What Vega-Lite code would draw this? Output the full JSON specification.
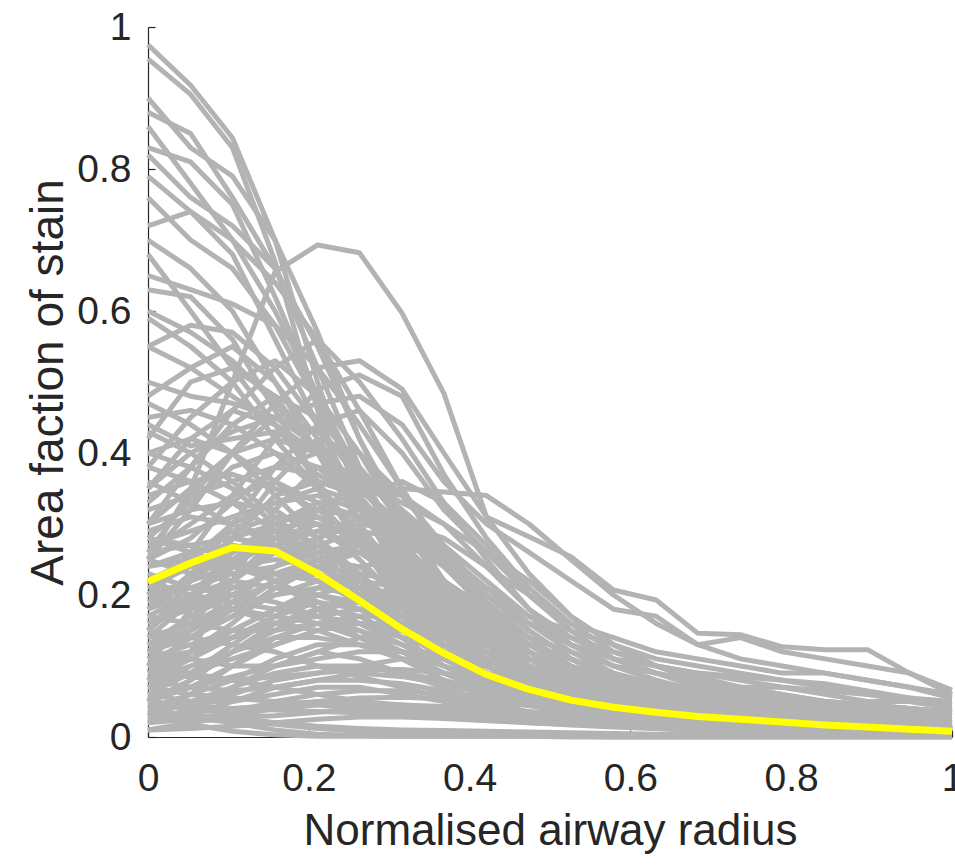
{
"$schema": "https://vega.github.io/schema/vega-lite/v6.json",
"width": 804, "height": 710,
"autosize": "none",
"padding": {"left": 148, "top": 27, "right": 3, "bottom": 129},
"background": "white",
"config": {"view": {"stroke": null},
 "axis": {"domainColor": "#262626", "tickColor": "#262626", "labelColor": "#262626", "titleColor": "#262626", "labelFont": "Liberation Sans", "titleFont": "Liberation Sans", "labelFontSize": 39, "titleFontSize": 44, "titleFontWeight": "normal", "grid": false, "tickSize": -7, "domainWidth": 1.2, "tickWidth": 1.2, "labelFlush": false, "labelOverlap": false}},
"datasets": {
"g": [
{"s":1,"x":0,"y":0.975},{"s":1,"x":0.053,"y":0.918},{"s":1,"x":0.105,"y":0.844},{"s":1,"x":0.158,"y":0.70},{"s":1,"x":0.211,"y":0.50},{"s":1,"x":0.263,"y":0.33},{"s":1,"x":0.316,"y":0.22},{"s":1,"x":0.368,"y":0.15},{"s":1,"x":0.421,"y":0.10},{"s":1,"x":0.474,"y":0.07},{"s":1,"x":0.526,"y":0.05},{"s":1,"x":0.579,"y":0.04},{"s":1,"x":0.632,"y":0.03},{"s":1,"x":0.684,"y":0.025},{"s":1,"x":0.737,"y":0.02},{"s":1,"x":0.789,"y":0.015},{"s":1,"x":0.842,"y":0.012},{"s":1,"x":0.895,"y":0.01},{"s":1,"x":0.947,"y":0.01},{"s":1,"x":1,"y":0.01},
{"s":2,"x":0,"y":0.955},{"s":2,"x":0.053,"y":0.905},{"s":2,"x":0.105,"y":0.83},{"s":2,"x":0.158,"y":0.67},{"s":2,"x":0.211,"y":0.46},{"s":2,"x":0.263,"y":0.30},{"s":2,"x":0.316,"y":0.19},{"s":2,"x":0.368,"y":0.12},{"s":2,"x":0.421,"y":0.08},{"s":2,"x":0.474,"y":0.06},{"s":2,"x":0.526,"y":0.045},{"s":2,"x":0.579,"y":0.035},{"s":2,"x":0.632,"y":0.03},{"s":2,"x":0.684,"y":0.02},{"s":2,"x":0.737,"y":0.02},{"s":2,"x":0.789,"y":0.015},{"s":2,"x":0.842,"y":0.01},{"s":2,"x":0.895,"y":0.01},{"s":2,"x":0.947,"y":0.01},{"s":2,"x":1,"y":0.008},
{"s":3,"x":0,"y":0.90},{"s":3,"x":0.053,"y":0.83},{"s":3,"x":0.105,"y":0.79},{"s":3,"x":0.158,"y":0.70},{"s":3,"x":0.211,"y":0.57},{"s":3,"x":0.263,"y":0.42},{"s":3,"x":0.316,"y":0.30},{"s":3,"x":0.368,"y":0.21},{"s":3,"x":0.421,"y":0.14},{"s":3,"x":0.474,"y":0.09},{"s":3,"x":0.526,"y":0.06},{"s":3,"x":0.579,"y":0.045},{"s":3,"x":0.632,"y":0.035},{"s":3,"x":0.684,"y":0.03},{"s":3,"x":0.737,"y":0.025},{"s":3,"x":0.789,"y":0.02},{"s":3,"x":0.842,"y":0.015},{"s":3,"x":0.895,"y":0.012},{"s":3,"x":0.947,"y":0.01},{"s":3,"x":1,"y":0.01},
{"s":4,"x":0,"y":0.88},{"s":4,"x":0.053,"y":0.85},{"s":4,"x":0.105,"y":0.76},{"s":4,"x":0.158,"y":0.66},{"s":4,"x":0.211,"y":0.52},{"s":4,"x":0.263,"y":0.38},{"s":4,"x":0.316,"y":0.26},{"s":4,"x":0.368,"y":0.17},{"s":4,"x":0.421,"y":0.11},{"s":4,"x":0.474,"y":0.07},{"s":4,"x":0.526,"y":0.05},{"s":4,"x":0.579,"y":0.04},{"s":4,"x":0.632,"y":0.03},{"s":4,"x":0.684,"y":0.02},{"s":4,"x":0.737,"y":0.015},{"s":4,"x":0.789,"y":0.012},{"s":4,"x":0.842,"y":0.01},{"s":4,"x":0.895,"y":0.01},{"s":4,"x":0.947,"y":0.008},{"s":4,"x":1,"y":0.006},
{"s":5,"x":0,"y":0.83},{"s":5,"x":0.053,"y":0.81},{"s":5,"x":0.105,"y":0.75},{"s":5,"x":0.158,"y":0.62},{"s":5,"x":0.211,"y":0.48},{"s":5,"x":0.263,"y":0.36},{"s":5,"x":0.316,"y":0.27},{"s":5,"x":0.368,"y":0.19},{"s":5,"x":0.421,"y":0.13},{"s":5,"x":0.474,"y":0.09},{"s":5,"x":0.526,"y":0.06},{"s":5,"x":0.579,"y":0.045},{"s":5,"x":0.632,"y":0.035},{"s":5,"x":0.684,"y":0.03},{"s":5,"x":0.737,"y":0.025},{"s":5,"x":0.789,"y":0.02},{"s":5,"x":0.842,"y":0.015},{"s":5,"x":0.895,"y":0.012},{"s":5,"x":0.947,"y":0.01},{"s":5,"x":1,"y":0.01},
{"s":6,"x":0,"y":0.82},{"s":6,"x":0.053,"y":0.76},{"s":6,"x":0.105,"y":0.72},{"s":6,"x":0.158,"y":0.66},{"s":6,"x":0.211,"y":0.55},{"s":6,"x":0.263,"y":0.42},{"s":6,"x":0.316,"y":0.31},{"s":6,"x":0.368,"y":0.22},{"s":6,"x":0.421,"y":0.15},{"s":6,"x":0.474,"y":0.10},{"s":6,"x":0.526,"y":0.07},{"s":6,"x":0.579,"y":0.05},{"s":6,"x":0.632,"y":0.04},{"s":6,"x":0.684,"y":0.03},{"s":6,"x":0.737,"y":0.025},{"s":6,"x":0.789,"y":0.02},{"s":6,"x":0.842,"y":0.02},{"s":6,"x":0.895,"y":0.015},{"s":6,"x":0.947,"y":0.012},{"s":6,"x":1,"y":0.01},
{"s":7,"x":0,"y":0.79},{"s":7,"x":0.053,"y":0.74},{"s":7,"x":0.105,"y":0.68},{"s":7,"x":0.158,"y":0.56},{"s":7,"x":0.211,"y":0.44},{"s":7,"x":0.263,"y":0.33},{"s":7,"x":0.316,"y":0.24},{"s":7,"x":0.368,"y":0.17},{"s":7,"x":0.421,"y":0.12},{"s":7,"x":0.474,"y":0.08},{"s":7,"x":0.526,"y":0.06},{"s":7,"x":0.579,"y":0.045},{"s":7,"x":0.632,"y":0.035},{"s":7,"x":0.684,"y":0.03},{"s":7,"x":0.737,"y":0.025},{"s":7,"x":0.789,"y":0.02},{"s":7,"x":0.842,"y":0.015},{"s":7,"x":0.895,"y":0.012},{"s":7,"x":0.947,"y":0.01},{"s":7,"x":1,"y":0.01},
{"s":8,"x":0,"y":0.76},{"s":8,"x":0.053,"y":0.70},{"s":8,"x":0.105,"y":0.66},{"s":8,"x":0.158,"y":0.58},{"s":8,"x":0.211,"y":0.47},{"s":8,"x":0.263,"y":0.36},{"s":8,"x":0.316,"y":0.27},{"s":8,"x":0.368,"y":0.20},{"s":8,"x":0.421,"y":0.14},{"s":8,"x":0.474,"y":0.10},{"s":8,"x":0.526,"y":0.07},{"s":8,"x":0.579,"y":0.05},{"s":8,"x":0.632,"y":0.04},{"s":8,"x":0.684,"y":0.03},{"s":8,"x":0.737,"y":0.025},{"s":8,"x":0.789,"y":0.02},{"s":8,"x":0.842,"y":0.015},{"s":8,"x":0.895,"y":0.012},{"s":8,"x":0.947,"y":0.01},{"s":8,"x":1,"y":0.01},
{"s":9,"x":0,"y":0.70},{"s":9,"x":0.053,"y":0.66},{"s":9,"x":0.105,"y":0.60},{"s":9,"x":0.158,"y":0.50},{"s":9,"x":0.211,"y":0.40},{"s":9,"x":0.263,"y":0.30},{"s":9,"x":0.316,"y":0.22},{"s":9,"x":0.368,"y":0.16},{"s":9,"x":0.421,"y":0.12},{"s":9,"x":0.474,"y":0.08},{"s":9,"x":0.526,"y":0.06},{"s":9,"x":0.579,"y":0.045},{"s":9,"x":0.632,"y":0.035},{"s":9,"x":0.684,"y":0.03},{"s":9,"x":0.737,"y":0.025},{"s":9,"x":0.789,"y":0.02},{"s":9,"x":0.842,"y":0.015},{"s":9,"x":0.895,"y":0.012},{"s":9,"x":0.947,"y":0.01},{"s":9,"x":1,"y":0.01},
{"s":10,"x":0,"y":0.68},{"s":10,"x":0.053,"y":0.60},{"s":10,"x":0.105,"y":0.52},{"s":10,"x":0.158,"y":0.44},{"s":10,"x":0.211,"y":0.36},{"s":10,"x":0.263,"y":0.28},{"s":10,"x":0.316,"y":0.21},{"s":10,"x":0.368,"y":0.15},{"s":10,"x":0.421,"y":0.11},{"s":10,"x":0.474,"y":0.08},{"s":10,"x":0.526,"y":0.06},{"s":10,"x":0.579,"y":0.045},{"s":10,"x":0.632,"y":0.035},{"s":10,"x":0.684,"y":0.03},{"s":10,"x":0.737,"y":0.025},{"s":10,"x":0.789,"y":0.02},{"s":10,"x":0.842,"y":0.015},{"s":10,"x":0.895,"y":0.012},{"s":10,"x":0.947,"y":0.01},{"s":10,"x":1,"y":0.01},
{"s":11,"x":0,"y":0.65},{"s":11,"x":0.053,"y":0.63},{"s":11,"x":0.105,"y":0.61},{"s":11,"x":0.158,"y":0.58},{"s":11,"x":0.211,"y":0.52},{"s":11,"x":0.263,"y":0.44},{"s":11,"x":0.316,"y":0.35},{"s":11,"x":0.368,"y":0.26},{"s":11,"x":0.421,"y":0.18},{"s":11,"x":0.474,"y":0.12},{"s":11,"x":0.526,"y":0.08},{"s":11,"x":0.579,"y":0.06},{"s":11,"x":0.632,"y":0.045},{"s":11,"x":0.684,"y":0.035},{"s":11,"x":0.737,"y":0.03},{"s":11,"x":0.789,"y":0.025},{"s":11,"x":0.842,"y":0.02},{"s":11,"x":0.895,"y":0.015},{"s":11,"x":0.947,"y":0.012},{"s":11,"x":1,"y":0.01},
{"s":12,"x":0,"y":0.63},{"s":12,"x":0.053,"y":0.62},{"s":12,"x":0.105,"y":0.56},{"s":12,"x":0.158,"y":0.46},{"s":12,"x":0.211,"y":0.36},{"s":12,"x":0.263,"y":0.27},{"s":12,"x":0.316,"y":0.19},{"s":12,"x":0.368,"y":0.13},{"s":12,"x":0.421,"y":0.09},{"s":12,"x":0.474,"y":0.06},{"s":12,"x":0.526,"y":0.045},{"s":12,"x":0.579,"y":0.035},{"s":12,"x":0.632,"y":0.03},{"s":12,"x":0.684,"y":0.025},{"s":12,"x":0.737,"y":0.02},{"s":12,"x":0.789,"y":0.015},{"s":12,"x":0.842,"y":0.012},{"s":12,"x":0.895,"y":0.01},{"s":12,"x":0.947,"y":0.01},{"s":12,"x":1,"y":0.008},
{"s":13,"x":0,"y":0.59},{"s":13,"x":0.053,"y":0.55},{"s":13,"x":0.105,"y":0.50},{"s":13,"x":0.158,"y":0.42},{"s":13,"x":0.211,"y":0.35},{"s":13,"x":0.263,"y":0.28},{"s":13,"x":0.316,"y":0.21},{"s":13,"x":0.368,"y":0.15},{"s":13,"x":0.421,"y":0.10},{"s":13,"x":0.474,"y":0.07},{"s":13,"x":0.526,"y":0.05},{"s":13,"x":0.579,"y":0.04},{"s":13,"x":0.632,"y":0.03},{"s":13,"x":0.684,"y":0.025},{"s":13,"x":0.737,"y":0.02},{"s":13,"x":0.789,"y":0.015},{"s":13,"x":0.842,"y":0.012},{"s":13,"x":0.895,"y":0.01},{"s":13,"x":0.947,"y":0.01},{"s":13,"x":1,"y":0.008},
{"s":14,"x":0,"y":0.55},{"s":14,"x":0.053,"y":0.52},{"s":14,"x":0.105,"y":0.48},{"s":14,"x":0.158,"y":0.44},{"s":14,"x":0.211,"y":0.40},{"s":14,"x":0.263,"y":0.34},{"s":14,"x":0.316,"y":0.27},{"s":14,"x":0.368,"y":0.20},{"s":14,"x":0.421,"y":0.14},{"s":14,"x":0.474,"y":0.10},{"s":14,"x":0.526,"y":0.07},{"s":14,"x":0.579,"y":0.05},{"s":14,"x":0.632,"y":0.04},{"s":14,"x":0.684,"y":0.03},{"s":14,"x":0.737,"y":0.025},{"s":14,"x":0.789,"y":0.02},{"s":14,"x":0.842,"y":0.015},{"s":14,"x":0.895,"y":0.012},{"s":14,"x":0.947,"y":0.01},{"s":14,"x":1,"y":0.01},
{"s":15,"x":0,"y":0.50},{"s":15,"x":0.053,"y":0.48},{"s":15,"x":0.105,"y":0.47},{"s":15,"x":0.158,"y":0.45},{"s":15,"x":0.211,"y":0.41},{"s":15,"x":0.263,"y":0.35},{"s":15,"x":0.316,"y":0.29},{"s":15,"x":0.368,"y":0.22},{"s":15,"x":0.421,"y":0.16},{"s":15,"x":0.474,"y":0.11},{"s":15,"x":0.526,"y":0.08},{"s":15,"x":0.579,"y":0.06},{"s":15,"x":0.632,"y":0.045},{"s":15,"x":0.684,"y":0.035},{"s":15,"x":0.737,"y":0.03},{"s":15,"x":0.789,"y":0.025},{"s":15,"x":0.842,"y":0.02},{"s":15,"x":0.895,"y":0.015},{"s":15,"x":0.947,"y":0.012},{"s":15,"x":1,"y":0.01},
{"s":16,"x":0,"y":0.47},{"s":16,"x":0.053,"y":0.44},{"s":16,"x":0.105,"y":0.40},{"s":16,"x":0.158,"y":0.34},{"s":16,"x":0.211,"y":0.28},{"s":16,"x":0.263,"y":0.22},{"s":16,"x":0.316,"y":0.17},{"s":16,"x":0.368,"y":0.12},{"s":16,"x":0.421,"y":0.08},{"s":16,"x":0.474,"y":0.06},{"s":16,"x":0.526,"y":0.045},{"s":16,"x":0.579,"y":0.035},{"s":16,"x":0.632,"y":0.03},{"s":16,"x":0.684,"y":0.025},{"s":16,"x":0.737,"y":0.02},{"s":16,"x":0.789,"y":0.015},{"s":16,"x":0.842,"y":0.012},{"s":16,"x":0.895,"y":0.01},{"s":16,"x":0.947,"y":0.01},{"s":16,"x":1,"y":0.008},
{"s":17,"x":0,"y":0.45},{"s":17,"x":0.053,"y":0.46},{"s":17,"x":0.105,"y":0.44},{"s":17,"x":0.158,"y":0.40},{"s":17,"x":0.211,"y":0.35},{"s":17,"x":0.263,"y":0.29},{"s":17,"x":0.316,"y":0.23},{"s":17,"x":0.368,"y":0.17},{"s":17,"x":0.421,"y":0.12},{"s":17,"x":0.474,"y":0.08},{"s":17,"x":0.526,"y":0.06},{"s":17,"x":0.579,"y":0.045},{"s":17,"x":0.632,"y":0.035},{"s":17,"x":0.684,"y":0.03},{"s":17,"x":0.737,"y":0.025},{"s":17,"x":0.789,"y":0.02},{"s":17,"x":0.842,"y":0.015},{"s":17,"x":0.895,"y":0.012},{"s":17,"x":0.947,"y":0.01},{"s":17,"x":1,"y":0.01},
{"s":18,"x":0,"y":0.43},{"s":18,"x":0.053,"y":0.40},{"s":18,"x":0.105,"y":0.36},{"s":18,"x":0.158,"y":0.31},{"s":18,"x":0.211,"y":0.26},{"s":18,"x":0.263,"y":0.21},{"s":18,"x":0.316,"y":0.16},{"s":18,"x":0.368,"y":0.12},{"s":18,"x":0.421,"y":0.08},{"s":18,"x":0.474,"y":0.06},{"s":18,"x":0.526,"y":0.045},{"s":18,"x":0.579,"y":0.035},{"s":18,"x":0.632,"y":0.03},{"s":18,"x":0.684,"y":0.025},{"s":18,"x":0.737,"y":0.02},{"s":18,"x":0.789,"y":0.015},{"s":18,"x":0.842,"y":0.012},{"s":18,"x":0.895,"y":0.01},{"s":18,"x":0.947,"y":0.01},{"s":18,"x":1,"y":0.008},
{"s":19,"x":0,"y":0.40},{"s":19,"x":0.053,"y":0.38},{"s":19,"x":0.105,"y":0.35},{"s":19,"x":0.158,"y":0.30},{"s":19,"x":0.211,"y":0.25},{"s":19,"x":0.263,"y":0.20},{"s":19,"x":0.316,"y":0.15},{"s":19,"x":0.368,"y":0.11},{"s":19,"x":0.421,"y":0.08},{"s":19,"x":0.474,"y":0.06},{"s":19,"x":0.526,"y":0.045},{"s":19,"x":0.579,"y":0.035},{"s":19,"x":0.632,"y":0.03},{"s":19,"x":0.684,"y":0.025},{"s":19,"x":0.737,"y":0.02},{"s":19,"x":0.789,"y":0.015},{"s":19,"x":0.842,"y":0.012},{"s":19,"x":0.895,"y":0.01},{"s":19,"x":0.947,"y":0.01},{"s":19,"x":1,"y":0.008},
{"s":20,"x":0,"y":0.86},{"s":20,"x":0.053,"y":0.78},{"s":20,"x":0.105,"y":0.70},{"s":20,"x":0.158,"y":0.60},{"s":20,"x":0.211,"y":0.48},{"s":20,"x":0.263,"y":0.37},{"s":20,"x":0.316,"y":0.27},{"s":20,"x":0.368,"y":0.19},{"s":20,"x":0.421,"y":0.13},{"s":20,"x":0.474,"y":0.09},{"s":20,"x":0.526,"y":0.06},{"s":20,"x":0.579,"y":0.045},{"s":20,"x":0.632,"y":0.035},{"s":20,"x":0.684,"y":0.03},{"s":20,"x":0.737,"y":0.025},{"s":20,"x":0.789,"y":0.02},{"s":20,"x":0.842,"y":0.015},{"s":20,"x":0.895,"y":0.012},{"s":20,"x":0.947,"y":0.01},{"s":20,"x":1,"y":0.01},
{"s":21,"x":0,"y":0.72},{"s":21,"x":0.053,"y":0.74},{"s":21,"x":0.105,"y":0.70},{"s":21,"x":0.158,"y":0.64},{"s":21,"x":0.211,"y":0.56},{"s":21,"x":0.263,"y":0.46},{"s":21,"x":0.316,"y":0.35},{"s":21,"x":0.368,"y":0.25},{"s":21,"x":0.421,"y":0.17},{"s":21,"x":0.474,"y":0.11},{"s":21,"x":0.526,"y":0.08},{"s":21,"x":0.579,"y":0.06},{"s":21,"x":0.632,"y":0.045},{"s":21,"x":0.684,"y":0.035},{"s":21,"x":0.737,"y":0.03},{"s":21,"x":0.789,"y":0.025},{"s":21,"x":0.842,"y":0.02},{"s":21,"x":0.895,"y":0.015},{"s":21,"x":0.947,"y":0.012},{"s":21,"x":1,"y":0.01},
{"s":22,"x":0,"y":0.25},{"s":22,"x":0.053,"y":0.35},{"s":22,"x":0.105,"y":0.50},{"s":22,"x":0.158,"y":0.655},{"s":22,"x":0.211,"y":0.693},{"s":22,"x":0.263,"y":0.682},{"s":22,"x":0.316,"y":0.597},{"s":22,"x":0.368,"y":0.484},{"s":22,"x":0.421,"y":0.31},{"s":22,"x":0.474,"y":0.282},{"s":22,"x":0.526,"y":0.254},{"s":22,"x":0.579,"y":0.207},{"s":22,"x":0.632,"y":0.193},{"s":22,"x":0.684,"y":0.146},{"s":22,"x":0.737,"y":0.144},{"s":22,"x":0.789,"y":0.127},{"s":22,"x":0.842,"y":0.123},{"s":22,"x":0.895,"y":0.123},{"s":22,"x":0.947,"y":0.09},{"s":22,"x":1,"y":0.066},
{"s":23,"x":0,"y":0.30},{"s":23,"x":0.053,"y":0.38},{"s":23,"x":0.105,"y":0.46},{"s":23,"x":0.158,"y":0.52},{"s":23,"x":0.211,"y":0.56},{"s":23,"x":0.263,"y":0.50},{"s":23,"x":0.316,"y":0.42},{"s":23,"x":0.368,"y":0.33},{"s":23,"x":0.421,"y":0.25},{"s":23,"x":0.474,"y":0.18},{"s":23,"x":0.526,"y":0.13},{"s":23,"x":0.579,"y":0.10},{"s":23,"x":0.632,"y":0.08},{"s":23,"x":0.684,"y":0.06},{"s":23,"x":0.737,"y":0.05},{"s":23,"x":0.789,"y":0.04},{"s":23,"x":0.842,"y":0.035},{"s":23,"x":0.895,"y":0.03},{"s":23,"x":0.947,"y":0.025},{"s":23,"x":1,"y":0.02},
{"s":24,"x":0,"y":0.25},{"s":24,"x":0.053,"y":0.32},{"s":24,"x":0.105,"y":0.40},{"s":24,"x":0.158,"y":0.47},{"s":24,"x":0.211,"y":0.52},{"s":24,"x":0.263,"y":0.53},{"s":24,"x":0.316,"y":0.49},{"s":24,"x":0.368,"y":0.40},{"s":24,"x":0.421,"y":0.31},{"s":24,"x":0.474,"y":0.23},{"s":24,"x":0.526,"y":0.17},{"s":24,"x":0.579,"y":0.13},{"s":24,"x":0.632,"y":0.10},{"s":24,"x":0.684,"y":0.08},{"s":24,"x":0.737,"y":0.065},{"s":24,"x":0.789,"y":0.055},{"s":24,"x":0.842,"y":0.045},{"s":24,"x":0.895,"y":0.04},{"s":24,"x":0.947,"y":0.035},{"s":24,"x":1,"y":0.03},
{"s":25,"x":0,"y":0.20},{"s":25,"x":0.053,"y":0.26},{"s":25,"x":0.105,"y":0.34},{"s":25,"x":0.158,"y":0.42},{"s":25,"x":0.211,"y":0.49},{"s":25,"x":0.263,"y":0.51},{"s":25,"x":0.316,"y":0.48},{"s":25,"x":0.368,"y":0.37},{"s":25,"x":0.421,"y":0.28},{"s":25,"x":0.474,"y":0.21},{"s":25,"x":0.526,"y":0.16},{"s":25,"x":0.579,"y":0.12},{"s":25,"x":0.632,"y":0.10},{"s":25,"x":0.684,"y":0.08},{"s":25,"x":0.737,"y":0.07},{"s":25,"x":0.789,"y":0.06},{"s":25,"x":0.842,"y":0.05},{"s":25,"x":0.895,"y":0.045},{"s":25,"x":0.947,"y":0.04},{"s":25,"x":1,"y":0.035},
{"s":26,"x":0,"y":0.15},{"s":26,"x":0.053,"y":0.22},{"s":26,"x":0.105,"y":0.30},{"s":26,"x":0.158,"y":0.38},{"s":26,"x":0.211,"y":0.44},{"s":26,"x":0.263,"y":0.46},{"s":26,"x":0.316,"y":0.40},{"s":26,"x":0.368,"y":0.32},{"s":26,"x":0.421,"y":0.26},{"s":26,"x":0.474,"y":0.20},{"s":26,"x":0.526,"y":0.15},{"s":26,"x":0.579,"y":0.11},{"s":26,"x":0.632,"y":0.09},{"s":26,"x":0.684,"y":0.075},{"s":26,"x":0.737,"y":0.06},{"s":26,"x":0.789,"y":0.05},{"s":26,"x":0.842,"y":0.045},{"s":26,"x":0.895,"y":0.04},{"s":26,"x":0.947,"y":0.035},{"s":26,"x":1,"y":0.03},
{"s":27,"x":0,"y":0.10},{"s":27,"x":0.053,"y":0.18},{"s":27,"x":0.105,"y":0.28},{"s":27,"x":0.158,"y":0.36},{"s":27,"x":0.211,"y":0.42},{"s":27,"x":0.263,"y":0.40},{"s":27,"x":0.316,"y":0.34},{"s":27,"x":0.368,"y":0.27},{"s":27,"x":0.421,"y":0.20},{"s":27,"x":0.474,"y":0.15},{"s":27,"x":0.526,"y":0.11},{"s":27,"x":0.579,"y":0.085},{"s":27,"x":0.632,"y":0.07},{"s":27,"x":0.684,"y":0.055},{"s":27,"x":0.737,"y":0.045},{"s":27,"x":0.789,"y":0.04},{"s":27,"x":0.842,"y":0.035},{"s":27,"x":0.895,"y":0.03},{"s":27,"x":0.947,"y":0.025},{"s":27,"x":1,"y":0.02},
{"s":28,"x":0,"y":0.35},{"s":28,"x":0.053,"y":0.40},{"s":28,"x":0.105,"y":0.43},{"s":28,"x":0.158,"y":0.45},{"s":28,"x":0.211,"y":0.43},{"s":28,"x":0.263,"y":0.38},{"s":28,"x":0.316,"y":0.31},{"s":28,"x":0.368,"y":0.24},{"s":28,"x":0.421,"y":0.18},{"s":28,"x":0.474,"y":0.13},{"s":28,"x":0.526,"y":0.095},{"s":28,"x":0.579,"y":0.075},{"s":28,"x":0.632,"y":0.06},{"s":28,"x":0.684,"y":0.05},{"s":28,"x":0.737,"y":0.04},{"s":28,"x":0.789,"y":0.035},{"s":28,"x":0.842,"y":0.03},{"s":28,"x":0.895,"y":0.025},{"s":28,"x":0.947,"y":0.02},{"s":28,"x":1,"y":0.02},
{"s":29,"x":0,"y":0.05},{"s":29,"x":0.053,"y":0.12},{"s":29,"x":0.105,"y":0.22},{"s":29,"x":0.158,"y":0.32},{"s":29,"x":0.211,"y":0.38},{"s":29,"x":0.263,"y":0.37},{"s":29,"x":0.316,"y":0.32},{"s":29,"x":0.368,"y":0.25},{"s":29,"x":0.421,"y":0.19},{"s":29,"x":0.474,"y":0.14},{"s":29,"x":0.526,"y":0.10},{"s":29,"x":0.579,"y":0.08},{"s":29,"x":0.632,"y":0.065},{"s":29,"x":0.684,"y":0.05},{"s":29,"x":0.737,"y":0.04},{"s":29,"x":0.789,"y":0.035},{"s":29,"x":0.842,"y":0.03},{"s":29,"x":0.895,"y":0.025},{"s":29,"x":0.947,"y":0.02},{"s":29,"x":1,"y":0.018},
{"s":30,"x":0,"y":0.28},{"s":30,"x":0.053,"y":0.33},{"s":30,"x":0.105,"y":0.38},{"s":30,"x":0.158,"y":0.40},{"s":30,"x":0.211,"y":0.38},{"s":30,"x":0.263,"y":0.33},{"s":30,"x":0.316,"y":0.27},{"s":30,"x":0.368,"y":0.21},{"s":30,"x":0.421,"y":0.16},{"s":30,"x":0.474,"y":0.12},{"s":30,"x":0.526,"y":0.09},{"s":30,"x":0.579,"y":0.07},{"s":30,"x":0.632,"y":0.055},{"s":30,"x":0.684,"y":0.045},{"s":30,"x":0.737,"y":0.04},{"s":30,"x":0.789,"y":0.035},{"s":30,"x":0.842,"y":0.03},{"s":30,"x":0.895,"y":0.025},{"s":30,"x":0.947,"y":0.02},{"s":30,"x":1,"y":0.018},
{"s":31,"x":0,"y":0.18},{"s":31,"x":0.053,"y":0.22},{"s":31,"x":0.105,"y":0.28},{"s":31,"x":0.158,"y":0.34},{"s":31,"x":0.211,"y":0.36},{"s":31,"x":0.263,"y":0.34},{"s":31,"x":0.316,"y":0.36},{"s":31,"x":0.368,"y":0.33},{"s":31,"x":0.421,"y":0.27},{"s":31,"x":0.474,"y":0.20},{"s":31,"x":0.526,"y":0.15},{"s":31,"x":0.579,"y":0.11},{"s":31,"x":0.632,"y":0.09},{"s":31,"x":0.684,"y":0.07},{"s":31,"x":0.737,"y":0.06},{"s":31,"x":0.789,"y":0.05},{"s":31,"x":0.842,"y":0.045},{"s":31,"x":0.895,"y":0.04},{"s":31,"x":0.947,"y":0.035},{"s":31,"x":1,"y":0.03},
{"s":32,"x":0,"y":0.08},{"s":32,"x":0.053,"y":0.15},{"s":32,"x":0.105,"y":0.24},{"s":32,"x":0.158,"y":0.30},{"s":32,"x":0.211,"y":0.33},{"s":32,"x":0.263,"y":0.31},{"s":32,"x":0.316,"y":0.27},{"s":32,"x":0.368,"y":0.22},{"s":32,"x":0.421,"y":0.17},{"s":32,"x":0.474,"y":0.13},{"s":32,"x":0.526,"y":0.10},{"s":32,"x":0.579,"y":0.08},{"s":32,"x":0.632,"y":0.065},{"s":32,"x":0.684,"y":0.055},{"s":32,"x":0.737,"y":0.045},{"s":32,"x":0.789,"y":0.04},{"s":32,"x":0.842,"y":0.035},{"s":32,"x":0.895,"y":0.03},{"s":32,"x":0.947,"y":0.025},{"s":32,"x":1,"y":0.02},
{"s":33,"x":0,"y":0.12},{"s":33,"x":0.053,"y":0.17},{"s":33,"x":0.105,"y":0.22},{"s":33,"x":0.158,"y":0.28},{"s":33,"x":0.211,"y":0.32},{"s":33,"x":0.263,"y":0.35},{"s":33,"x":0.316,"y":0.34},{"s":33,"x":0.368,"y":0.30},{"s":33,"x":0.421,"y":0.24},{"s":33,"x":0.474,"y":0.18},{"s":33,"x":0.526,"y":0.14},{"s":33,"x":0.579,"y":0.11},{"s":33,"x":0.632,"y":0.09},{"s":33,"x":0.684,"y":0.075},{"s":33,"x":0.737,"y":0.065},{"s":33,"x":0.789,"y":0.055},{"s":33,"x":0.842,"y":0.05},{"s":33,"x":0.895,"y":0.045},{"s":33,"x":0.947,"y":0.04},{"s":33,"x":1,"y":0.035},
{"s":34,"x":0,"y":0.40},{"s":34,"x":0.053,"y":0.42},{"s":34,"x":0.105,"y":0.40},{"s":34,"x":0.158,"y":0.36},{"s":34,"x":0.211,"y":0.31},{"s":34,"x":0.263,"y":0.27},{"s":34,"x":0.316,"y":0.22},{"s":34,"x":0.368,"y":0.18},{"s":34,"x":0.421,"y":0.14},{"s":34,"x":0.474,"y":0.10},{"s":34,"x":0.526,"y":0.08},{"s":34,"x":0.579,"y":0.065},{"s":34,"x":0.632,"y":0.055},{"s":34,"x":0.684,"y":0.045},{"s":34,"x":0.737,"y":0.04},{"s":34,"x":0.789,"y":0.035},{"s":34,"x":0.842,"y":0.03},{"s":34,"x":0.895,"y":0.025},{"s":34,"x":0.947,"y":0.02},{"s":34,"x":1,"y":0.018},
{"s":35,"x":0,"y":0.15},{"s":35,"x":0.053,"y":0.20},{"s":35,"x":0.105,"y":0.26},{"s":35,"x":0.158,"y":0.30},{"s":35,"x":0.211,"y":0.33},{"s":35,"x":0.263,"y":0.34},{"s":35,"x":0.316,"y":0.35},{"s":35,"x":0.368,"y":0.345},{"s":35,"x":0.421,"y":0.34},{"s":35,"x":0.474,"y":0.30},{"s":35,"x":0.526,"y":0.25},{"s":35,"x":0.579,"y":0.20},{"s":35,"x":0.632,"y":0.16},{"s":35,"x":0.684,"y":0.13},{"s":35,"x":0.737,"y":0.11},{"s":35,"x":0.789,"y":0.10},{"s":35,"x":0.842,"y":0.09},{"s":35,"x":0.895,"y":0.08},{"s":35,"x":0.947,"y":0.07},{"s":35,"x":1,"y":0.06},
{"s":36,"x":0,"y":0.30},{"s":36,"x":0.053,"y":0.35},{"s":36,"x":0.105,"y":0.40},{"s":36,"x":0.158,"y":0.45},{"s":36,"x":0.211,"y":0.47},{"s":36,"x":0.263,"y":0.48},{"s":36,"x":0.316,"y":0.44},{"s":36,"x":0.368,"y":0.36},{"s":36,"x":0.421,"y":0.30},{"s":36,"x":0.474,"y":0.26},{"s":36,"x":0.526,"y":0.22},{"s":36,"x":0.579,"y":0.18},{"s":36,"x":0.632,"y":0.17},{"s":36,"x":0.684,"y":0.13},{"s":36,"x":0.737,"y":0.14},{"s":36,"x":0.789,"y":0.12},{"s":36,"x":0.842,"y":0.11},{"s":36,"x":0.895,"y":0.10},{"s":36,"x":0.947,"y":0.09},{"s":36,"x":1,"y":0.06},
{"s":37,"x":0,"y":0.25},{"s":37,"x":0.053,"y":0.28},{"s":37,"x":0.105,"y":0.33},{"s":37,"x":0.158,"y":0.38},{"s":37,"x":0.211,"y":0.40},{"s":37,"x":0.263,"y":0.35},{"s":37,"x":0.316,"y":0.30},{"s":37,"x":0.368,"y":0.28},{"s":37,"x":0.421,"y":0.24},{"s":37,"x":0.474,"y":0.20},{"s":37,"x":0.526,"y":0.16},{"s":37,"x":0.579,"y":0.14},{"s":37,"x":0.632,"y":0.12},{"s":37,"x":0.684,"y":0.11},{"s":37,"x":0.737,"y":0.10},{"s":37,"x":0.789,"y":0.09},{"s":37,"x":0.842,"y":0.09},{"s":37,"x":0.895,"y":0.08},{"s":37,"x":0.947,"y":0.07},{"s":37,"x":1,"y":0.055},
{"s":38,"x":0,"y":0.20},{"s":38,"x":0.053,"y":0.25},{"s":38,"x":0.105,"y":0.30},{"s":38,"x":0.158,"y":0.33},{"s":38,"x":0.211,"y":0.35},{"s":38,"x":0.263,"y":0.33},{"s":38,"x":0.316,"y":0.30},{"s":38,"x":0.368,"y":0.26},{"s":38,"x":0.421,"y":0.21},{"s":38,"x":0.474,"y":0.17},{"s":38,"x":0.526,"y":0.15},{"s":38,"x":0.579,"y":0.13},{"s":38,"x":0.632,"y":0.11},{"s":38,"x":0.684,"y":0.10},{"s":38,"x":0.737,"y":0.09},{"s":38,"x":0.789,"y":0.08},{"s":38,"x":0.842,"y":0.07},{"s":38,"x":0.895,"y":0.06},{"s":38,"x":0.947,"y":0.05},{"s":38,"x":1,"y":0.05},
{"s":39,"x":0,"y":0.15},{"s":39,"x":0.053,"y":0.20},{"s":39,"x":0.105,"y":0.24},{"s":39,"x":0.158,"y":0.28},{"s":39,"x":0.211,"y":0.30},{"s":39,"x":0.263,"y":0.28},{"s":39,"x":0.316,"y":0.25},{"s":39,"x":0.368,"y":0.22},{"s":39,"x":0.421,"y":0.18},{"s":39,"x":0.474,"y":0.14},{"s":39,"x":0.526,"y":0.12},{"s":39,"x":0.579,"y":0.10},{"s":39,"x":0.632,"y":0.09},{"s":39,"x":0.684,"y":0.08},{"s":39,"x":0.737,"y":0.07},{"s":39,"x":0.789,"y":0.07},{"s":39,"x":0.842,"y":0.06},{"s":39,"x":0.895,"y":0.05},{"s":39,"x":0.947,"y":0.05},{"s":39,"x":1,"y":0.04},
{"s":40,"x":0,"y":0.10},{"s":40,"x":0.053,"y":0.14},{"s":40,"x":0.105,"y":0.18},{"s":40,"x":0.158,"y":0.22},{"s":40,"x":0.211,"y":0.25},{"s":40,"x":0.263,"y":0.27},{"s":40,"x":0.316,"y":0.26},{"s":40,"x":0.368,"y":0.22},{"s":40,"x":0.421,"y":0.17},{"s":40,"x":0.474,"y":0.13},{"s":40,"x":0.526,"y":0.11},{"s":40,"x":0.579,"y":0.09},{"s":40,"x":0.632,"y":0.075},{"s":40,"x":0.684,"y":0.065},{"s":40,"x":0.737,"y":0.06},{"s":40,"x":0.789,"y":0.055},{"s":40,"x":0.842,"y":0.05},{"s":40,"x":0.895,"y":0.045},{"s":40,"x":0.947,"y":0.04},{"s":40,"x":1,"y":0.035},
{"s":41,"x":0,"y":0.35},{"s":41,"x":0.053,"y":0.42},{"s":41,"x":0.105,"y":0.46},{"s":41,"x":0.158,"y":0.44},{"s":41,"x":0.211,"y":0.40},{"s":41,"x":0.263,"y":0.35},{"s":41,"x":0.316,"y":0.30},{"s":41,"x":0.368,"y":0.25},{"s":41,"x":0.421,"y":0.20},{"s":41,"x":0.474,"y":0.16},{"s":41,"x":0.526,"y":0.13},{"s":41,"x":0.579,"y":0.11},{"s":41,"x":0.632,"y":0.10},{"s":41,"x":0.684,"y":0.09},{"s":41,"x":0.737,"y":0.085},{"s":41,"x":0.789,"y":0.08},{"s":41,"x":0.842,"y":0.075},{"s":41,"x":0.895,"y":0.065},{"s":41,"x":0.947,"y":0.055},{"s":41,"x":1,"y":0.045},
{"s":42,"x":0,"y":0.05},{"s":42,"x":0.053,"y":0.08},{"s":42,"x":0.105,"y":0.12},{"s":42,"x":0.158,"y":0.15},{"s":42,"x":0.211,"y":0.18},{"s":42,"x":0.263,"y":0.20},{"s":42,"x":0.316,"y":0.21},{"s":42,"x":0.368,"y":0.20},{"s":42,"x":0.421,"y":0.18},{"s":42,"x":0.474,"y":0.16},{"s":42,"x":0.526,"y":0.14},{"s":42,"x":0.579,"y":0.12},{"s":42,"x":0.632,"y":0.10},{"s":42,"x":0.684,"y":0.09},{"s":42,"x":0.737,"y":0.08},{"s":42,"x":0.789,"y":0.07},{"s":42,"x":0.842,"y":0.065},{"s":42,"x":0.895,"y":0.06},{"s":42,"x":0.947,"y":0.055},{"s":42,"x":1,"y":0.05},
{"s":43,"x":0,"y":0.30},{"s":43,"x":0.053,"y":0.32},{"s":43,"x":0.105,"y":0.33},{"s":43,"x":0.158,"y":0.32},{"s":43,"x":0.211,"y":0.28},{"s":43,"x":0.263,"y":0.23},{"s":43,"x":0.316,"y":0.18},{"s":43,"x":0.368,"y":0.13},{"s":43,"x":0.421,"y":0.09},{"s":43,"x":0.474,"y":0.065},{"s":43,"x":0.526,"y":0.05},{"s":43,"x":0.579,"y":0.04},{"s":43,"x":0.632,"y":0.03},{"s":43,"x":0.684,"y":0.025},{"s":43,"x":0.737,"y":0.02},{"s":43,"x":0.789,"y":0.018},{"s":43,"x":0.842,"y":0.015},{"s":43,"x":0.895,"y":0.012},{"s":43,"x":0.947,"y":0.01},{"s":43,"x":1,"y":0.008},
{"s":44,"x":0,"y":0.28},{"s":44,"x":0.053,"y":0.27},{"s":44,"x":0.105,"y":0.25},{"s":44,"x":0.158,"y":0.22},{"s":44,"x":0.211,"y":0.18},{"s":44,"x":0.263,"y":0.14},{"s":44,"x":0.316,"y":0.11},{"s":44,"x":0.368,"y":0.08},{"s":44,"x":0.421,"y":0.06},{"s":44,"x":0.474,"y":0.045},{"s":44,"x":0.526,"y":0.035},{"s":44,"x":0.579,"y":0.03},{"s":44,"x":0.632,"y":0.025},{"s":44,"x":0.684,"y":0.02},{"s":44,"x":0.737,"y":0.018},{"s":44,"x":0.789,"y":0.015},{"s":44,"x":0.842,"y":0.012},{"s":44,"x":0.895,"y":0.01},{"s":44,"x":0.947,"y":0.008},{"s":44,"x":1,"y":0.006},
{"s":45,"x":0,"y":0.26},{"s":45,"x":0.053,"y":0.30},{"s":45,"x":0.105,"y":0.34},{"s":45,"x":0.158,"y":0.36},{"s":45,"x":0.211,"y":0.33},{"s":45,"x":0.263,"y":0.27},{"s":45,"x":0.316,"y":0.20},{"s":45,"x":0.368,"y":0.14},{"s":45,"x":0.421,"y":0.10},{"s":45,"x":0.474,"y":0.07},{"s":45,"x":0.526,"y":0.05},{"s":45,"x":0.579,"y":0.04},{"s":45,"x":0.632,"y":0.03},{"s":45,"x":0.684,"y":0.025},{"s":45,"x":0.737,"y":0.02},{"s":45,"x":0.789,"y":0.018},{"s":45,"x":0.842,"y":0.015},{"s":45,"x":0.895,"y":0.012},{"s":45,"x":0.947,"y":0.01},{"s":45,"x":1,"y":0.008},
{"s":46,"x":0,"y":0.24},{"s":46,"x":0.053,"y":0.26},{"s":46,"x":0.105,"y":0.27},{"s":46,"x":0.158,"y":0.26},{"s":46,"x":0.211,"y":0.23},{"s":46,"x":0.263,"y":0.19},{"s":46,"x":0.316,"y":0.15},{"s":46,"x":0.368,"y":0.12},{"s":46,"x":0.421,"y":0.09},{"s":46,"x":0.474,"y":0.07},{"s":46,"x":0.526,"y":0.055},{"s":46,"x":0.579,"y":0.045},{"s":46,"x":0.632,"y":0.035},{"s":46,"x":0.684,"y":0.03},{"s":46,"x":0.737,"y":0.025},{"s":46,"x":0.789,"y":0.02},{"s":46,"x":0.842,"y":0.018},{"s":46,"x":0.895,"y":0.015},{"s":46,"x":0.947,"y":0.012},{"s":46,"x":1,"y":0.01},
{"s":47,"x":0,"y":0.22},{"s":47,"x":0.053,"y":0.25},{"s":47,"x":0.105,"y":0.29},{"s":47,"x":0.158,"y":0.31},{"s":47,"x":0.211,"y":0.30},{"s":47,"x":0.263,"y":0.25},{"s":47,"x":0.316,"y":0.19},{"s":47,"x":0.368,"y":0.14},{"s":47,"x":0.421,"y":0.10},{"s":47,"x":0.474,"y":0.075},{"s":47,"x":0.526,"y":0.055},{"s":47,"x":0.579,"y":0.04},{"s":47,"x":0.632,"y":0.03},{"s":47,"x":0.684,"y":0.025},{"s":47,"x":0.737,"y":0.02},{"s":47,"x":0.789,"y":0.018},{"s":47,"x":0.842,"y":0.015},{"s":47,"x":0.895,"y":0.012},{"s":47,"x":0.947,"y":0.01},{"s":47,"x":1,"y":0.008},
{"s":48,"x":0,"y":0.20},{"s":48,"x":0.053,"y":0.22},{"s":48,"x":0.105,"y":0.24},{"s":48,"x":0.158,"y":0.25},{"s":48,"x":0.211,"y":0.24},{"s":48,"x":0.263,"y":0.21},{"s":48,"x":0.316,"y":0.17},{"s":48,"x":0.368,"y":0.13},{"s":48,"x":0.421,"y":0.10},{"s":48,"x":0.474,"y":0.075},{"s":48,"x":0.526,"y":0.055},{"s":48,"x":0.579,"y":0.045},{"s":48,"x":0.632,"y":0.035},{"s":48,"x":0.684,"y":0.03},{"s":48,"x":0.737,"y":0.025},{"s":48,"x":0.789,"y":0.02},{"s":48,"x":0.842,"y":0.018},{"s":48,"x":0.895,"y":0.015},{"s":48,"x":0.947,"y":0.012},{"s":48,"x":1,"y":0.01},
{"s":49,"x":0,"y":0.18},{"s":49,"x":0.053,"y":0.23},{"s":49,"x":0.105,"y":0.28},{"s":49,"x":0.158,"y":0.30},{"s":49,"x":0.211,"y":0.27},{"s":49,"x":0.263,"y":0.22},{"s":49,"x":0.316,"y":0.17},{"s":49,"x":0.368,"y":0.12},{"s":49,"x":0.421,"y":0.085},{"s":49,"x":0.474,"y":0.06},{"s":49,"x":0.526,"y":0.045},{"s":49,"x":0.579,"y":0.035},{"s":49,"x":0.632,"y":0.03},{"s":49,"x":0.684,"y":0.025},{"s":49,"x":0.737,"y":0.02},{"s":49,"x":0.789,"y":0.018},{"s":49,"x":0.842,"y":0.015},{"s":49,"x":0.895,"y":0.012},{"s":49,"x":0.947,"y":0.01},{"s":49,"x":1,"y":0.008},
{"s":50,"x":0,"y":0.16},{"s":50,"x":0.053,"y":0.18},{"s":50,"x":0.105,"y":0.21},{"s":50,"x":0.158,"y":0.23},{"s":50,"x":0.211,"y":0.22},{"s":50,"x":0.263,"y":0.19},{"s":50,"x":0.316,"y":0.15},{"s":50,"x":0.368,"y":0.11},{"s":50,"x":0.421,"y":0.08},{"s":50,"x":0.474,"y":0.06},{"s":50,"x":0.526,"y":0.045},{"s":50,"x":0.579,"y":0.035},{"s":50,"x":0.632,"y":0.03},{"s":50,"x":0.684,"y":0.025},{"s":50,"x":0.737,"y":0.02},{"s":50,"x":0.789,"y":0.018},{"s":50,"x":0.842,"y":0.015},{"s":50,"x":0.895,"y":0.012},{"s":50,"x":0.947,"y":0.01},{"s":50,"x":1,"y":0.008},
{"s":51,"x":0,"y":0.14},{"s":51,"x":0.053,"y":0.19},{"s":51,"x":0.105,"y":0.25},{"s":51,"x":0.158,"y":0.29},{"s":51,"x":0.211,"y":0.31},{"s":51,"x":0.263,"y":0.29},{"s":51,"x":0.316,"y":0.24},{"s":51,"x":0.368,"y":0.18},{"s":51,"x":0.421,"y":0.13},{"s":51,"x":0.474,"y":0.09},{"s":51,"x":0.526,"y":0.065},{"s":51,"x":0.579,"y":0.05},{"s":51,"x":0.632,"y":0.04},{"s":51,"x":0.684,"y":0.03},{"s":51,"x":0.737,"y":0.025},{"s":51,"x":0.789,"y":0.02},{"s":51,"x":0.842,"y":0.018},{"s":51,"x":0.895,"y":0.015},{"s":51,"x":0.947,"y":0.012},{"s":51,"x":1,"y":0.01},
{"s":52,"x":0,"y":0.12},{"s":52,"x":0.053,"y":0.15},{"s":52,"x":0.105,"y":0.19},{"s":52,"x":0.158,"y":0.22},{"s":52,"x":0.211,"y":0.23},{"s":52,"x":0.263,"y":0.21},{"s":52,"x":0.316,"y":0.18},{"s":52,"x":0.368,"y":0.14},{"s":52,"x":0.421,"y":0.11},{"s":52,"x":0.474,"y":0.08},{"s":52,"x":0.526,"y":0.06},{"s":52,"x":0.579,"y":0.045},{"s":52,"x":0.632,"y":0.035},{"s":52,"x":0.684,"y":0.03},{"s":52,"x":0.737,"y":0.025},{"s":52,"x":0.789,"y":0.02},{"s":52,"x":0.842,"y":0.018},{"s":52,"x":0.895,"y":0.015},{"s":52,"x":0.947,"y":0.012},{"s":52,"x":1,"y":0.01},
{"s":53,"x":0,"y":0.10},{"s":53,"x":0.053,"y":0.14},{"s":53,"x":0.105,"y":0.17},{"s":53,"x":0.158,"y":0.20},{"s":53,"x":0.211,"y":0.21},{"s":53,"x":0.263,"y":0.20},{"s":53,"x":0.316,"y":0.17},{"s":53,"x":0.368,"y":0.14},{"s":53,"x":0.421,"y":0.11},{"s":53,"x":0.474,"y":0.085},{"s":53,"x":0.526,"y":0.065},{"s":53,"x":0.579,"y":0.05},{"s":53,"x":0.632,"y":0.04},{"s":53,"x":0.684,"y":0.03},{"s":53,"x":0.737,"y":0.025},{"s":53,"x":0.789,"y":0.02},{"s":53,"x":0.842,"y":0.018},{"s":53,"x":0.895,"y":0.015},{"s":53,"x":0.947,"y":0.012},{"s":53,"x":1,"y":0.01},
{"s":54,"x":0,"y":0.08},{"s":54,"x":0.053,"y":0.11},{"s":54,"x":0.105,"y":0.15},{"s":54,"x":0.158,"y":0.18},{"s":54,"x":0.211,"y":0.20},{"s":54,"x":0.263,"y":0.19},{"s":54,"x":0.316,"y":0.16},{"s":54,"x":0.368,"y":0.12},{"s":54,"x":0.421,"y":0.09},{"s":54,"x":0.474,"y":0.07},{"s":54,"x":0.526,"y":0.05},{"s":54,"x":0.579,"y":0.04},{"s":54,"x":0.632,"y":0.03},{"s":54,"x":0.684,"y":0.025},{"s":54,"x":0.737,"y":0.02},{"s":54,"x":0.789,"y":0.018},{"s":54,"x":0.842,"y":0.015},{"s":54,"x":0.895,"y":0.012},{"s":54,"x":0.947,"y":0.01},{"s":54,"x":1,"y":0.008},
{"s":55,"x":0,"y":0.06},{"s":55,"x":0.053,"y":0.09},{"s":55,"x":0.105,"y":0.13},{"s":55,"x":0.158,"y":0.17},{"s":55,"x":0.211,"y":0.19},{"s":55,"x":0.263,"y":0.18},{"s":55,"x":0.316,"y":0.15},{"s":55,"x":0.368,"y":0.12},{"s":55,"x":0.421,"y":0.09},{"s":55,"x":0.474,"y":0.07},{"s":55,"x":0.526,"y":0.055},{"s":55,"x":0.579,"y":0.045},{"s":55,"x":0.632,"y":0.035},{"s":55,"x":0.684,"y":0.03},{"s":55,"x":0.737,"y":0.025},{"s":55,"x":0.789,"y":0.02},{"s":55,"x":0.842,"y":0.018},{"s":55,"x":0.895,"y":0.015},{"s":55,"x":0.947,"y":0.012},{"s":55,"x":1,"y":0.01},
{"s":56,"x":0,"y":0.05},{"s":56,"x":0.053,"y":0.07},{"s":56,"x":0.105,"y":0.10},{"s":56,"x":0.158,"y":0.13},{"s":56,"x":0.211,"y":0.15},{"s":56,"x":0.263,"y":0.16},{"s":56,"x":0.316,"y":0.15},{"s":56,"x":0.368,"y":0.13},{"s":56,"x":0.421,"y":0.11},{"s":56,"x":0.474,"y":0.09},{"s":56,"x":0.526,"y":0.07},{"s":56,"x":0.579,"y":0.055},{"s":56,"x":0.632,"y":0.045},{"s":56,"x":0.684,"y":0.035},{"s":56,"x":0.737,"y":0.03},{"s":56,"x":0.789,"y":0.025},{"s":56,"x":0.842,"y":0.02},{"s":56,"x":0.895,"y":0.018},{"s":56,"x":0.947,"y":0.015},{"s":56,"x":1,"y":0.012},
{"s":57,"x":0,"y":0.04},{"s":57,"x":0.053,"y":0.06},{"s":57,"x":0.105,"y":0.08},{"s":57,"x":0.158,"y":0.11},{"s":57,"x":0.211,"y":0.13},{"s":57,"x":0.263,"y":0.13},{"s":57,"x":0.316,"y":0.12},{"s":57,"x":0.368,"y":0.10},{"s":57,"x":0.421,"y":0.08},{"s":57,"x":0.474,"y":0.065},{"s":57,"x":0.526,"y":0.05},{"s":57,"x":0.579,"y":0.04},{"s":57,"x":0.632,"y":0.03},{"s":57,"x":0.684,"y":0.025},{"s":57,"x":0.737,"y":0.02},{"s":57,"x":0.789,"y":0.018},{"s":57,"x":0.842,"y":0.015},{"s":57,"x":0.895,"y":0.012},{"s":57,"x":0.947,"y":0.01},{"s":57,"x":1,"y":0.008},
{"s":58,"x":0,"y":0.03},{"s":58,"x":0.053,"y":0.05},{"s":58,"x":0.105,"y":0.07},{"s":58,"x":0.158,"y":0.09},{"s":58,"x":0.211,"y":0.10},{"s":58,"x":0.263,"y":0.10},{"s":58,"x":0.316,"y":0.09},{"s":58,"x":0.368,"y":0.08},{"s":58,"x":0.421,"y":0.065},{"s":58,"x":0.474,"y":0.05},{"s":58,"x":0.526,"y":0.04},{"s":58,"x":0.579,"y":0.03},{"s":58,"x":0.632,"y":0.025},{"s":58,"x":0.684,"y":0.02},{"s":58,"x":0.737,"y":0.018},{"s":58,"x":0.789,"y":0.015},{"s":58,"x":0.842,"y":0.012},{"s":58,"x":0.895,"y":0.01},{"s":58,"x":0.947,"y":0.008},{"s":58,"x":1,"y":0.006},
{"s":59,"x":0,"y":0.02},{"s":59,"x":0.053,"y":0.03},{"s":59,"x":0.105,"y":0.05},{"s":59,"x":0.158,"y":0.07},{"s":59,"x":0.211,"y":0.08},{"s":59,"x":0.263,"y":0.08},{"s":59,"x":0.316,"y":0.075},{"s":59,"x":0.368,"y":0.065},{"s":59,"x":0.421,"y":0.055},{"s":59,"x":0.474,"y":0.045},{"s":59,"x":0.526,"y":0.035},{"s":59,"x":0.579,"y":0.03},{"s":59,"x":0.632,"y":0.025},{"s":59,"x":0.684,"y":0.02},{"s":59,"x":0.737,"y":0.018},{"s":59,"x":0.789,"y":0.015},{"s":59,"x":0.842,"y":0.012},{"s":59,"x":0.895,"y":0.01},{"s":59,"x":0.947,"y":0.008},{"s":59,"x":1,"y":0.006},
{"s":60,"x":0,"y":0.10},{"s":60,"x":0.053,"y":0.09},{"s":60,"x":0.105,"y":0.08},{"s":60,"x":0.158,"y":0.07},{"s":60,"x":0.211,"y":0.06},{"s":60,"x":0.263,"y":0.05},{"s":60,"x":0.316,"y":0.04},{"s":60,"x":0.368,"y":0.035},{"s":60,"x":0.421,"y":0.03},{"s":60,"x":0.474,"y":0.025},{"s":60,"x":0.526,"y":0.02},{"s":60,"x":0.579,"y":0.018},{"s":60,"x":0.632,"y":0.015},{"s":60,"x":0.684,"y":0.012},{"s":60,"x":0.737,"y":0.01},{"s":60,"x":0.789,"y":0.008},{"s":60,"x":0.842,"y":0.006},{"s":60,"x":0.895,"y":0.005},{"s":60,"x":0.947,"y":0.004},{"s":60,"x":1,"y":0.003},
{"s":61,"x":0,"y":0.15},{"s":61,"x":0.053,"y":0.14},{"s":61,"x":0.105,"y":0.13},{"s":61,"x":0.158,"y":0.12},{"s":61,"x":0.211,"y":0.10},{"s":61,"x":0.263,"y":0.085},{"s":61,"x":0.316,"y":0.07},{"s":61,"x":0.368,"y":0.055},{"s":61,"x":0.421,"y":0.045},{"s":61,"x":0.474,"y":0.035},{"s":61,"x":0.526,"y":0.03},{"s":61,"x":0.579,"y":0.025},{"s":61,"x":0.632,"y":0.02},{"s":61,"x":0.684,"y":0.018},{"s":61,"x":0.737,"y":0.015},{"s":61,"x":0.789,"y":0.012},{"s":61,"x":0.842,"y":0.01},{"s":61,"x":0.895,"y":0.008},{"s":61,"x":0.947,"y":0.006},{"s":61,"x":1,"y":0.005},
{"s":62,"x":0,"y":0.07},{"s":62,"x":0.053,"y":0.10},{"s":62,"x":0.105,"y":0.12},{"s":62,"x":0.158,"y":0.14},{"s":62,"x":0.211,"y":0.14},{"s":62,"x":0.263,"y":0.13},{"s":62,"x":0.316,"y":0.11},{"s":62,"x":0.368,"y":0.09},{"s":62,"x":0.421,"y":0.07},{"s":62,"x":0.474,"y":0.055},{"s":62,"x":0.526,"y":0.045},{"s":62,"x":0.579,"y":0.035},{"s":62,"x":0.632,"y":0.03},{"s":62,"x":0.684,"y":0.025},{"s":62,"x":0.737,"y":0.02},{"s":62,"x":0.789,"y":0.018},{"s":62,"x":0.842,"y":0.015},{"s":62,"x":0.895,"y":0.012},{"s":62,"x":0.947,"y":0.01},{"s":62,"x":1,"y":0.008},
{"s":63,"x":0,"y":0.09},{"s":63,"x":0.053,"y":0.12},{"s":63,"x":0.105,"y":0.16},{"s":63,"x":0.158,"y":0.21},{"s":63,"x":0.211,"y":0.25},{"s":63,"x":0.263,"y":0.26},{"s":63,"x":0.316,"y":0.23},{"s":63,"x":0.368,"y":0.18},{"s":63,"x":0.421,"y":0.13},{"s":63,"x":0.474,"y":0.095},{"s":63,"x":0.526,"y":0.07},{"s":63,"x":0.579,"y":0.055},{"s":63,"x":0.632,"y":0.045},{"s":63,"x":0.684,"y":0.035},{"s":63,"x":0.737,"y":0.03},{"s":63,"x":0.789,"y":0.025},{"s":63,"x":0.842,"y":0.02},{"s":63,"x":0.895,"y":0.018},{"s":63,"x":0.947,"y":0.015},{"s":63,"x":1,"y":0.012},
{"s":64,"x":0,"y":0.11},{"s":64,"x":0.053,"y":0.16},{"s":64,"x":0.105,"y":0.22},{"s":64,"x":0.158,"y":0.27},{"s":64,"x":0.211,"y":0.29},{"s":64,"x":0.263,"y":0.27},{"s":64,"x":0.316,"y":0.22},{"s":64,"x":0.368,"y":0.16},{"s":64,"x":0.421,"y":0.12},{"s":64,"x":0.474,"y":0.09},{"s":64,"x":0.526,"y":0.07},{"s":64,"x":0.579,"y":0.055},{"s":64,"x":0.632,"y":0.045},{"s":64,"x":0.684,"y":0.035},{"s":64,"x":0.737,"y":0.03},{"s":64,"x":0.789,"y":0.025},{"s":64,"x":0.842,"y":0.02},{"s":64,"x":0.895,"y":0.018},{"s":64,"x":0.947,"y":0.015},{"s":64,"x":1,"y":0.012},
{"s":65,"x":0,"y":0.13},{"s":65,"x":0.053,"y":0.17},{"s":65,"x":0.105,"y":0.20},{"s":65,"x":0.158,"y":0.24},{"s":65,"x":0.211,"y":0.27},{"s":65,"x":0.263,"y":0.29},{"s":65,"x":0.316,"y":0.28},{"s":65,"x":0.368,"y":0.24},{"s":65,"x":0.421,"y":0.19},{"s":65,"x":0.474,"y":0.14},{"s":65,"x":0.526,"y":0.10},{"s":65,"x":0.579,"y":0.075},{"s":65,"x":0.632,"y":0.06},{"s":65,"x":0.684,"y":0.05},{"s":65,"x":0.737,"y":0.04},{"s":65,"x":0.789,"y":0.035},{"s":65,"x":0.842,"y":0.03},{"s":65,"x":0.895,"y":0.025},{"s":65,"x":0.947,"y":0.02},{"s":65,"x":1,"y":0.015},
{"s":66,"x":0,"y":0.17},{"s":66,"x":0.053,"y":0.20},{"s":66,"x":0.105,"y":0.22},{"s":66,"x":0.158,"y":0.26},{"s":66,"x":0.211,"y":0.28},{"s":66,"x":0.263,"y":0.30},{"s":66,"x":0.316,"y":0.29},{"s":66,"x":0.368,"y":0.25},{"s":66,"x":0.421,"y":0.20},{"s":66,"x":0.474,"y":0.15},{"s":66,"x":0.526,"y":0.11},{"s":66,"x":0.579,"y":0.085},{"s":66,"x":0.632,"y":0.065},{"s":66,"x":0.684,"y":0.05},{"s":66,"x":0.737,"y":0.04},{"s":66,"x":0.789,"y":0.035},{"s":66,"x":0.842,"y":0.03},{"s":66,"x":0.895,"y":0.025},{"s":66,"x":0.947,"y":0.02},{"s":66,"x":1,"y":0.018},
{"s":67,"x":0,"y":0.19},{"s":67,"x":0.053,"y":0.21},{"s":67,"x":0.105,"y":0.23},{"s":67,"x":0.158,"y":0.24},{"s":67,"x":0.211,"y":0.26},{"s":67,"x":0.263,"y":0.27},{"s":67,"x":0.316,"y":0.25},{"s":67,"x":0.368,"y":0.21},{"s":67,"x":0.421,"y":0.17},{"s":67,"x":0.474,"y":0.13},{"s":67,"x":0.526,"y":0.10},{"s":67,"x":0.579,"y":0.075},{"s":67,"x":0.632,"y":0.06},{"s":67,"x":0.684,"y":0.05},{"s":67,"x":0.737,"y":0.04},{"s":67,"x":0.789,"y":0.035},{"s":67,"x":0.842,"y":0.03},{"s":67,"x":0.895,"y":0.025},{"s":67,"x":0.947,"y":0.02},{"s":67,"x":1,"y":0.018},
{"s":68,"x":0,"y":0.21},{"s":68,"x":0.053,"y":0.24},{"s":68,"x":0.105,"y":0.26},{"s":68,"x":0.158,"y":0.28},{"s":68,"x":0.211,"y":0.29},{"s":68,"x":0.263,"y":0.26},{"s":68,"x":0.316,"y":0.22},{"s":68,"x":0.368,"y":0.18},{"s":68,"x":0.421,"y":0.14},{"s":68,"x":0.474,"y":0.11},{"s":68,"x":0.526,"y":0.085},{"s":68,"x":0.579,"y":0.065},{"s":68,"x":0.632,"y":0.05},{"s":68,"x":0.684,"y":0.04},{"s":68,"x":0.737,"y":0.035},{"s":68,"x":0.789,"y":0.03},{"s":68,"x":0.842,"y":0.025},{"s":68,"x":0.895,"y":0.02},{"s":68,"x":0.947,"y":0.018},{"s":68,"x":1,"y":0.015},
{"s":69,"x":0,"y":0.23},{"s":69,"x":0.053,"y":0.21},{"s":69,"x":0.105,"y":0.20},{"s":69,"x":0.158,"y":0.19},{"s":69,"x":0.211,"y":0.17},{"s":69,"x":0.263,"y":0.15},{"s":69,"x":0.316,"y":0.13},{"s":69,"x":0.368,"y":0.11},{"s":69,"x":0.421,"y":0.09},{"s":69,"x":0.474,"y":0.07},{"s":69,"x":0.526,"y":0.055},{"s":69,"x":0.579,"y":0.045},{"s":69,"x":0.632,"y":0.035},{"s":69,"x":0.684,"y":0.03},{"s":69,"x":0.737,"y":0.025},{"s":69,"x":0.789,"y":0.02},{"s":69,"x":0.842,"y":0.018},{"s":69,"x":0.895,"y":0.015},{"s":69,"x":0.947,"y":0.012},{"s":69,"x":1,"y":0.01},
{"s":70,"x":0,"y":0.25},{"s":70,"x":0.053,"y":0.23},{"s":70,"x":0.105,"y":0.22},{"s":70,"x":0.158,"y":0.21},{"s":70,"x":0.211,"y":0.20},{"s":70,"x":0.263,"y":0.18},{"s":70,"x":0.316,"y":0.15},{"s":70,"x":0.368,"y":0.12},{"s":70,"x":0.421,"y":0.09},{"s":70,"x":0.474,"y":0.07},{"s":70,"x":0.526,"y":0.055},{"s":70,"x":0.579,"y":0.045},{"s":70,"x":0.632,"y":0.035},{"s":70,"x":0.684,"y":0.03},{"s":70,"x":0.737,"y":0.025},{"s":70,"x":0.789,"y":0.02},{"s":70,"x":0.842,"y":0.018},{"s":70,"x":0.895,"y":0.015},{"s":70,"x":0.947,"y":0.012},{"s":70,"x":1,"y":0.01},
{"s":71,"x":0,"y":0.27},{"s":71,"x":0.053,"y":0.29},{"s":71,"x":0.105,"y":0.31},{"s":71,"x":0.158,"y":0.33},{"s":71,"x":0.211,"y":0.34},{"s":71,"x":0.263,"y":0.32},{"s":71,"x":0.316,"y":0.27},{"s":71,"x":0.368,"y":0.21},{"s":71,"x":0.421,"y":0.15},{"s":71,"x":0.474,"y":0.11},{"s":71,"x":0.526,"y":0.08},{"s":71,"x":0.579,"y":0.06},{"s":71,"x":0.632,"y":0.045},{"s":71,"x":0.684,"y":0.035},{"s":71,"x":0.737,"y":0.03},{"s":71,"x":0.789,"y":0.025},{"s":71,"x":0.842,"y":0.02},{"s":71,"x":0.895,"y":0.018},{"s":71,"x":0.947,"y":0.015},{"s":71,"x":1,"y":0.012},
{"s":72,"x":0,"y":0.29},{"s":72,"x":0.053,"y":0.31},{"s":72,"x":0.105,"y":0.30},{"s":72,"x":0.158,"y":0.28},{"s":72,"x":0.211,"y":0.25},{"s":72,"x":0.263,"y":0.22},{"s":72,"x":0.316,"y":0.19},{"s":72,"x":0.368,"y":0.16},{"s":72,"x":0.421,"y":0.13},{"s":72,"x":0.474,"y":0.10},{"s":72,"x":0.526,"y":0.08},{"s":72,"x":0.579,"y":0.065},{"s":72,"x":0.632,"y":0.05},{"s":72,"x":0.684,"y":0.04},{"s":72,"x":0.737,"y":0.035},{"s":72,"x":0.789,"y":0.03},{"s":72,"x":0.842,"y":0.025},{"s":72,"x":0.895,"y":0.02},{"s":72,"x":0.947,"y":0.018},{"s":72,"x":1,"y":0.015},
{"s":73,"x":0,"y":0.32},{"s":73,"x":0.053,"y":0.34},{"s":73,"x":0.105,"y":0.36},{"s":73,"x":0.158,"y":0.38},{"s":73,"x":0.211,"y":0.37},{"s":73,"x":0.263,"y":0.33},{"s":73,"x":0.316,"y":0.27},{"s":73,"x":0.368,"y":0.20},{"s":73,"x":0.421,"y":0.14},{"s":73,"x":0.474,"y":0.10},{"s":73,"x":0.526,"y":0.075},{"s":73,"x":0.579,"y":0.06},{"s":73,"x":0.632,"y":0.045},{"s":73,"x":0.684,"y":0.035},{"s":73,"x":0.737,"y":0.03},{"s":73,"x":0.789,"y":0.025},{"s":73,"x":0.842,"y":0.02},{"s":73,"x":0.895,"y":0.018},{"s":73,"x":0.947,"y":0.015},{"s":73,"x":1,"y":0.012},
{"s":74,"x":0,"y":0.34},{"s":74,"x":0.053,"y":0.36},{"s":74,"x":0.105,"y":0.37},{"s":74,"x":0.158,"y":0.35},{"s":74,"x":0.211,"y":0.32},{"s":74,"x":0.263,"y":0.28},{"s":74,"x":0.316,"y":0.23},{"s":74,"x":0.368,"y":0.18},{"s":74,"x":0.421,"y":0.13},{"s":74,"x":0.474,"y":0.09},{"s":74,"x":0.526,"y":0.07},{"s":74,"x":0.579,"y":0.055},{"s":74,"x":0.632,"y":0.045},{"s":74,"x":0.684,"y":0.035},{"s":74,"x":0.737,"y":0.03},{"s":74,"x":0.789,"y":0.025},{"s":74,"x":0.842,"y":0.02},{"s":74,"x":0.895,"y":0.018},{"s":74,"x":0.947,"y":0.015},{"s":74,"x":1,"y":0.012},
{"s":75,"x":0,"y":0.36},{"s":75,"x":0.053,"y":0.33},{"s":75,"x":0.105,"y":0.30},{"s":75,"x":0.158,"y":0.27},{"s":75,"x":0.211,"y":0.24},{"s":75,"x":0.263,"y":0.21},{"s":75,"x":0.316,"y":0.17},{"s":75,"x":0.368,"y":0.13},{"s":75,"x":0.421,"y":0.10},{"s":75,"x":0.474,"y":0.075},{"s":75,"x":0.526,"y":0.055},{"s":75,"x":0.579,"y":0.045},{"s":75,"x":0.632,"y":0.035},{"s":75,"x":0.684,"y":0.03},{"s":75,"x":0.737,"y":0.025},{"s":75,"x":0.789,"y":0.02},{"s":75,"x":0.842,"y":0.018},{"s":75,"x":0.895,"y":0.015},{"s":75,"x":0.947,"y":0.012},{"s":75,"x":1,"y":0.01},
{"s":76,"x":0,"y":0.38},{"s":76,"x":0.053,"y":0.36},{"s":76,"x":0.105,"y":0.33},{"s":76,"x":0.158,"y":0.29},{"s":76,"x":0.211,"y":0.25},{"s":76,"x":0.263,"y":0.22},{"s":76,"x":0.316,"y":0.18},{"s":76,"x":0.368,"y":0.14},{"s":76,"x":0.421,"y":0.10},{"s":76,"x":0.474,"y":0.075},{"s":76,"x":0.526,"y":0.055},{"s":76,"x":0.579,"y":0.045},{"s":76,"x":0.632,"y":0.035},{"s":76,"x":0.684,"y":0.03},{"s":76,"x":0.737,"y":0.025},{"s":76,"x":0.789,"y":0.02},{"s":76,"x":0.842,"y":0.018},{"s":76,"x":0.895,"y":0.015},{"s":76,"x":0.947,"y":0.012},{"s":76,"x":1,"y":0.01},
{"s":77,"x":0,"y":0.01},{"s":77,"x":0.053,"y":0.02},{"s":77,"x":0.105,"y":0.03},{"s":77,"x":0.158,"y":0.04},{"s":77,"x":0.211,"y":0.05},{"s":77,"x":0.263,"y":0.05},{"s":77,"x":0.316,"y":0.045},{"s":77,"x":0.368,"y":0.04},{"s":77,"x":0.421,"y":0.035},{"s":77,"x":0.474,"y":0.03},{"s":77,"x":0.526,"y":0.025},{"s":77,"x":0.579,"y":0.02},{"s":77,"x":0.632,"y":0.018},{"s":77,"x":0.684,"y":0.015},{"s":77,"x":0.737,"y":0.012},{"s":77,"x":0.789,"y":0.01},{"s":77,"x":0.842,"y":0.008},{"s":77,"x":0.895,"y":0.006},{"s":77,"x":0.947,"y":0.005},{"s":77,"x":1,"y":0.004},
{"s":78,"x":0,"y":0.04},{"s":78,"x":0.053,"y":0.03},{"s":78,"x":0.105,"y":0.02},{"s":78,"x":0.158,"y":0.01},{"s":78,"x":0.211,"y":0.004},{"s":78,"x":0.263,"y":0.002},{"s":78,"x":0.316,"y":0.001},{"s":78,"x":0.368,"y":0.001},{"s":78,"x":0.421,"y":0.001},{"s":78,"x":0.474,"y":0.001},{"s":78,"x":0.526,"y":0.001},{"s":78,"x":0.579,"y":0},{"s":78,"x":0.632,"y":0},{"s":78,"x":0.684,"y":0},{"s":78,"x":0.737,"y":0},{"s":78,"x":0.789,"y":0},{"s":78,"x":0.842,"y":0},{"s":78,"x":0.895,"y":0},{"s":78,"x":0.947,"y":0},{"s":78,"x":1,"y":0},
{"s":79,"x":0,"y":0.045},{"s":79,"x":0.053,"y":0.04},{"s":79,"x":0.105,"y":0.035},{"s":79,"x":0.158,"y":0.04},{"s":79,"x":0.211,"y":0.045},{"s":79,"x":0.263,"y":0.04},{"s":79,"x":0.316,"y":0.035},{"s":79,"x":0.368,"y":0.03},{"s":79,"x":0.421,"y":0.025},{"s":79,"x":0.474,"y":0.02},{"s":79,"x":0.526,"y":0.018},{"s":79,"x":0.579,"y":0.015},{"s":79,"x":0.632,"y":0.012},{"s":79,"x":0.684,"y":0.01},{"s":79,"x":0.737,"y":0.008},{"s":79,"x":0.789,"y":0.006},{"s":79,"x":0.842,"y":0.005},{"s":79,"x":0.895,"y":0.004},{"s":79,"x":0.947,"y":0.003},{"s":79,"x":1,"y":0.002},
{"s":80,"x":0,"y":0.08},{"s":80,"x":0.053,"y":0.07},{"s":80,"x":0.105,"y":0.065},{"s":80,"x":0.158,"y":0.07},{"s":80,"x":0.211,"y":0.08},{"s":80,"x":0.263,"y":0.09},{"s":80,"x":0.316,"y":0.085},{"s":80,"x":0.368,"y":0.075},{"s":80,"x":0.421,"y":0.06},{"s":80,"x":0.474,"y":0.05},{"s":80,"x":0.526,"y":0.04},{"s":80,"x":0.579,"y":0.03},{"s":80,"x":0.632,"y":0.025},{"s":80,"x":0.684,"y":0.02},{"s":80,"x":0.737,"y":0.018},{"s":80,"x":0.789,"y":0.015},{"s":80,"x":0.842,"y":0.012},{"s":80,"x":0.895,"y":0.01},{"s":80,"x":0.947,"y":0.008},{"s":80,"x":1,"y":0.006},
{"s":81,"x":0,"y":0.12},{"s":81,"x":0.053,"y":0.11},{"s":81,"x":0.105,"y":0.10},{"s":81,"x":0.158,"y":0.10},{"s":81,"x":0.211,"y":0.11},{"s":81,"x":0.263,"y":0.12},{"s":81,"x":0.316,"y":0.12},{"s":81,"x":0.368,"y":0.11},{"s":81,"x":0.421,"y":0.09},{"s":81,"x":0.474,"y":0.07},{"s":81,"x":0.526,"y":0.055},{"s":81,"x":0.579,"y":0.045},{"s":81,"x":0.632,"y":0.035},{"s":81,"x":0.684,"y":0.028},{"s":81,"x":0.737,"y":0.022},{"s":81,"x":0.789,"y":0.018},{"s":81,"x":0.842,"y":0.015},{"s":81,"x":0.895,"y":0.012},{"s":81,"x":0.947,"y":0.01},{"s":81,"x":1,"y":0.008},
{"s":82,"x":0,"y":0.06},{"s":82,"x":0.053,"y":0.05},{"s":82,"x":0.105,"y":0.05},{"s":82,"x":0.158,"y":0.06},{"s":82,"x":0.211,"y":0.07},{"s":82,"x":0.263,"y":0.07},{"s":82,"x":0.316,"y":0.06},{"s":82,"x":0.368,"y":0.05},{"s":82,"x":0.421,"y":0.04},{"s":82,"x":0.474,"y":0.035},{"s":82,"x":0.526,"y":0.03},{"s":82,"x":0.579,"y":0.025},{"s":82,"x":0.632,"y":0.02},{"s":82,"x":0.684,"y":0.015},{"s":82,"x":0.737,"y":0.012},{"s":82,"x":0.789,"y":0.01},{"s":82,"x":0.842,"y":0.008},{"s":82,"x":0.895,"y":0.006},{"s":82,"x":0.947,"y":0.005},{"s":82,"x":1,"y":0.004},
{"s":83,"x":0,"y":0.01},{"s":83,"x":0.053,"y":0.018},{"s":83,"x":0.105,"y":0.008},{"s":83,"x":0.158,"y":0.003},{"s":83,"x":0.211,"y":0.001},{"s":83,"x":0.263,"y":0.001},{"s":83,"x":0.316,"y":0.001},{"s":83,"x":0.368,"y":0.001},{"s":83,"x":0.421,"y":0.001},{"s":83,"x":0.474,"y":0.001},{"s":83,"x":0.526,"y":0},{"s":83,"x":0.579,"y":0},{"s":83,"x":0.632,"y":0},{"s":83,"x":0.684,"y":0},{"s":83,"x":0.737,"y":0},{"s":83,"x":0.789,"y":0},{"s":83,"x":0.842,"y":0},{"s":83,"x":0.895,"y":0},{"s":83,"x":0.947,"y":0},{"s":83,"x":1,"y":0},
{"s":84,"x":0,"y":0.48},{"s":84,"x":0.053,"y":0.52},{"s":84,"x":0.105,"y":0.55},{"s":84,"x":0.158,"y":0.50},{"s":84,"x":0.211,"y":0.42},{"s":84,"x":0.263,"y":0.34},{"s":84,"x":0.316,"y":0.26},{"s":84,"x":0.368,"y":0.19},{"s":84,"x":0.421,"y":0.13},{"s":84,"x":0.474,"y":0.09},{"s":84,"x":0.526,"y":0.065},{"s":84,"x":0.579,"y":0.05},{"s":84,"x":0.632,"y":0.04},{"s":84,"x":0.684,"y":0.03},{"s":84,"x":0.737,"y":0.025},{"s":84,"x":0.789,"y":0.02},{"s":84,"x":0.842,"y":0.018},{"s":84,"x":0.895,"y":0.015},{"s":84,"x":0.947,"y":0.012},{"s":84,"x":1,"y":0.01},
{"s":85,"x":0,"y":0.42},{"s":85,"x":0.053,"y":0.50},{"s":85,"x":0.105,"y":0.52},{"s":85,"x":0.158,"y":0.48},{"s":85,"x":0.211,"y":0.40},{"s":85,"x":0.263,"y":0.30},{"s":85,"x":0.316,"y":0.22},{"s":85,"x":0.368,"y":0.16},{"s":85,"x":0.421,"y":0.11},{"s":85,"x":0.474,"y":0.08},{"s":85,"x":0.526,"y":0.06},{"s":85,"x":0.579,"y":0.045},{"s":85,"x":0.632,"y":0.035},{"s":85,"x":0.684,"y":0.03},{"s":85,"x":0.737,"y":0.025},{"s":85,"x":0.789,"y":0.02},{"s":85,"x":0.842,"y":0.018},{"s":85,"x":0.895,"y":0.015},{"s":85,"x":0.947,"y":0.012},{"s":85,"x":1,"y":0.01},
{"s":86,"x":0,"y":0.38},{"s":86,"x":0.053,"y":0.45},{"s":86,"x":0.105,"y":0.50},{"s":86,"x":0.158,"y":0.53},{"s":86,"x":0.211,"y":0.48},{"s":86,"x":0.263,"y":0.40},{"s":86,"x":0.316,"y":0.30},{"s":86,"x":0.368,"y":0.22},{"s":86,"x":0.421,"y":0.15},{"s":86,"x":0.474,"y":0.10},{"s":86,"x":0.526,"y":0.07},{"s":86,"x":0.579,"y":0.055},{"s":86,"x":0.632,"y":0.045},{"s":86,"x":0.684,"y":0.035},{"s":86,"x":0.737,"y":0.03},{"s":86,"x":0.789,"y":0.025},{"s":86,"x":0.842,"y":0.02},{"s":86,"x":0.895,"y":0.018},{"s":86,"x":0.947,"y":0.015},{"s":86,"x":1,"y":0.012},
{"s":87,"x":0,"y":0.55},{"s":87,"x":0.053,"y":0.58},{"s":87,"x":0.105,"y":0.57},{"s":87,"x":0.158,"y":0.52},{"s":87,"x":0.211,"y":0.44},{"s":87,"x":0.263,"y":0.36},{"s":87,"x":0.316,"y":0.28},{"s":87,"x":0.368,"y":0.20},{"s":87,"x":0.421,"y":0.14},{"s":87,"x":0.474,"y":0.10},{"s":87,"x":0.526,"y":0.07},{"s":87,"x":0.579,"y":0.055},{"s":87,"x":0.632,"y":0.045},{"s":87,"x":0.684,"y":0.035},{"s":87,"x":0.737,"y":0.03},{"s":87,"x":0.789,"y":0.025},{"s":87,"x":0.842,"y":0.02},{"s":87,"x":0.895,"y":0.018},{"s":87,"x":0.947,"y":0.015},{"s":87,"x":1,"y":0.012},
{"s":88,"x":0,"y":0.33},{"s":88,"x":0.053,"y":0.38},{"s":88,"x":0.105,"y":0.44},{"s":88,"x":0.158,"y":0.48},{"s":88,"x":0.211,"y":0.45},{"s":88,"x":0.263,"y":0.38},{"s":88,"x":0.316,"y":0.30},{"s":88,"x":0.368,"y":0.22},{"s":88,"x":0.421,"y":0.16},{"s":88,"x":0.474,"y":0.11},{"s":88,"x":0.526,"y":0.08},{"s":88,"x":0.579,"y":0.06},{"s":88,"x":0.632,"y":0.045},{"s":88,"x":0.684,"y":0.035},{"s":88,"x":0.737,"y":0.03},{"s":88,"x":0.789,"y":0.025},{"s":88,"x":0.842,"y":0.02},{"s":88,"x":0.895,"y":0.018},{"s":88,"x":0.947,"y":0.015},{"s":88,"x":1,"y":0.012},
{"s":89,"x":0,"y":0.60},{"s":89,"x":0.053,"y":0.57},{"s":89,"x":0.105,"y":0.53},{"s":89,"x":0.158,"y":0.47},{"s":89,"x":0.211,"y":0.40},{"s":89,"x":0.263,"y":0.32},{"s":89,"x":0.316,"y":0.25},{"s":89,"x":0.368,"y":0.18},{"s":89,"x":0.421,"y":0.13},{"s":89,"x":0.474,"y":0.09},{"s":89,"x":0.526,"y":0.065},{"s":89,"x":0.579,"y":0.05},{"s":89,"x":0.632,"y":0.04},{"s":89,"x":0.684,"y":0.03},{"s":89,"x":0.737,"y":0.025},{"s":89,"x":0.789,"y":0.02},{"s":89,"x":0.842,"y":0.018},{"s":89,"x":0.895,"y":0.015},{"s":89,"x":0.947,"y":0.012},{"s":89,"x":1,"y":0.01},
{"s":90,"x":0,"y":0.44},{"s":90,"x":0.053,"y":0.41},{"s":90,"x":0.105,"y":0.42},{"s":90,"x":0.158,"y":0.43},{"s":90,"x":0.211,"y":0.40},{"s":90,"x":0.263,"y":0.36},{"s":90,"x":0.316,"y":0.32},{"s":90,"x":0.368,"y":0.27},{"s":90,"x":0.421,"y":0.22},{"s":90,"x":0.474,"y":0.17},{"s":90,"x":0.526,"y":0.13},{"s":90,"x":0.579,"y":0.10},{"s":90,"x":0.632,"y":0.08},{"s":90,"x":0.684,"y":0.065},{"s":90,"x":0.737,"y":0.055},{"s":90,"x":0.789,"y":0.045},{"s":90,"x":0.842,"y":0.04},{"s":90,"x":0.895,"y":0.035},{"s":90,"x":0.947,"y":0.03},{"s":90,"x":1,"y":0.025},
{"s":91,"x":0,"y":0.26},{"s":91,"x":0.053,"y":0.34},{"s":91,"x":0.105,"y":0.40},{"s":91,"x":0.158,"y":0.42},{"s":91,"x":0.211,"y":0.40},{"s":91,"x":0.263,"y":0.36},{"s":91,"x":0.316,"y":0.33},{"s":91,"x":0.368,"y":0.30},{"s":91,"x":0.421,"y":0.26},{"s":91,"x":0.474,"y":0.22},{"s":91,"x":0.526,"y":0.17},{"s":91,"x":0.579,"y":0.13},{"s":91,"x":0.632,"y":0.10},{"s":91,"x":0.684,"y":0.085},{"s":91,"x":0.737,"y":0.07},{"s":91,"x":0.789,"y":0.06},{"s":91,"x":0.842,"y":0.05},{"s":91,"x":0.895,"y":0.045},{"s":91,"x":0.947,"y":0.04},{"s":91,"x":1,"y":0.035},
{"s":92,"x":0,"y":0.02},{"s":92,"x":0.053,"y":0.04},{"s":92,"x":0.105,"y":0.07},{"s":92,"x":0.158,"y":0.10},{"s":92,"x":0.211,"y":0.12},{"s":92,"x":0.263,"y":0.11},{"s":92,"x":0.316,"y":0.09},{"s":92,"x":0.368,"y":0.07},{"s":92,"x":0.421,"y":0.05},{"s":92,"x":0.474,"y":0.035},{"s":92,"x":0.526,"y":0.025},{"s":92,"x":0.579,"y":0.018},{"s":92,"x":0.632,"y":0.014},{"s":92,"x":0.684,"y":0.011},{"s":92,"x":0.737,"y":0.009},{"s":92,"x":0.789,"y":0.007},{"s":92,"x":0.842,"y":0.006},{"s":92,"x":0.895,"y":0.005},{"s":92,"x":0.947,"y":0.004},{"s":92,"x":1,"y":0.003},
{"s":93,"x":0,"y":0.03},{"s":93,"x":0.053,"y":0.06},{"s":93,"x":0.105,"y":0.10},{"s":93,"x":0.158,"y":0.14},{"s":93,"x":0.211,"y":0.16},{"s":93,"x":0.263,"y":0.15},{"s":93,"x":0.316,"y":0.12},{"s":93,"x":0.368,"y":0.09},{"s":93,"x":0.421,"y":0.065},{"s":93,"x":0.474,"y":0.045},{"s":93,"x":0.526,"y":0.032},{"s":93,"x":0.579,"y":0.024},{"s":93,"x":0.632,"y":0.018},{"s":93,"x":0.684,"y":0.014},{"s":93,"x":0.737,"y":0.011},{"s":93,"x":0.789,"y":0.009},{"s":93,"x":0.842,"y":0.007},{"s":93,"x":0.895,"y":0.006},{"s":93,"x":0.947,"y":0.005},{"s":93,"x":1,"y":0.004},
{"s":94,"x":0,"y":0.05},{"s":94,"x":0.053,"y":0.08},{"s":94,"x":0.105,"y":0.12},{"s":94,"x":0.158,"y":0.16},{"s":94,"x":0.211,"y":0.18},{"s":94,"x":0.263,"y":0.17},{"s":94,"x":0.316,"y":0.14},{"s":94,"x":0.368,"y":0.10},{"s":94,"x":0.421,"y":0.07},{"s":94,"x":0.474,"y":0.05},{"s":94,"x":0.526,"y":0.035},{"s":94,"x":0.579,"y":0.026},{"s":94,"x":0.632,"y":0.02},{"s":94,"x":0.684,"y":0.016},{"s":94,"x":0.737,"y":0.013},{"s":94,"x":0.789,"y":0.01},{"s":94,"x":0.842,"y":0.008},{"s":94,"x":0.895,"y":0.007},{"s":94,"x":0.947,"y":0.006},{"s":94,"x":1,"y":0.005},
{"s":95,"x":0,"y":0.07},{"s":95,"x":0.053,"y":0.09},{"s":95,"x":0.105,"y":0.11},{"s":95,"x":0.158,"y":0.13},{"s":95,"x":0.211,"y":0.15},{"s":95,"x":0.263,"y":0.16},{"s":95,"x":0.316,"y":0.16},{"s":95,"x":0.368,"y":0.14},{"s":95,"x":0.421,"y":0.11},{"s":95,"x":0.474,"y":0.08},{"s":95,"x":0.526,"y":0.06},{"s":95,"x":0.579,"y":0.045},{"s":95,"x":0.632,"y":0.034},{"s":95,"x":0.684,"y":0.026},{"s":95,"x":0.737,"y":0.02},{"s":95,"x":0.789,"y":0.016},{"s":95,"x":0.842,"y":0.013},{"s":95,"x":0.895,"y":0.011},{"s":95,"x":0.947,"y":0.009},{"s":95,"x":1,"y":0.007},
{"s":96,"x":0,"y":0.09},{"s":96,"x":0.053,"y":0.11},{"s":96,"x":0.105,"y":0.14},{"s":96,"x":0.158,"y":0.17},{"s":96,"x":0.211,"y":0.20},{"s":96,"x":0.263,"y":0.22},{"s":96,"x":0.316,"y":0.21},{"s":96,"x":0.368,"y":0.17},{"s":96,"x":0.421,"y":0.13},{"s":96,"x":0.474,"y":0.095},{"s":96,"x":0.526,"y":0.07},{"s":96,"x":0.579,"y":0.05},{"s":96,"x":0.632,"y":0.038},{"s":96,"x":0.684,"y":0.03},{"s":96,"x":0.737,"y":0.024},{"s":96,"x":0.789,"y":0.019},{"s":96,"x":0.842,"y":0.015},{"s":96,"x":0.895,"y":0.012},{"s":96,"x":0.947,"y":0.01},{"s":96,"x":1,"y":0.008},
{"s":97,"x":0,"y":0.11},{"s":97,"x":0.053,"y":0.13},{"s":97,"x":0.105,"y":0.15},{"s":97,"x":0.158,"y":0.18},{"s":97,"x":0.211,"y":0.21},{"s":97,"x":0.263,"y":0.24},{"s":97,"x":0.316,"y":0.25},{"s":97,"x":0.368,"y":0.22},{"s":97,"x":0.421,"y":0.17},{"s":97,"x":0.474,"y":0.12},{"s":97,"x":0.526,"y":0.085},{"s":97,"x":0.579,"y":0.06},{"s":97,"x":0.632,"y":0.045},{"s":97,"x":0.684,"y":0.035},{"s":97,"x":0.737,"y":0.028},{"s":97,"x":0.789,"y":0.022},{"s":97,"x":0.842,"y":0.018},{"s":97,"x":0.895,"y":0.015},{"s":97,"x":0.947,"y":0.012},{"s":97,"x":1,"y":0.01},
{"s":98,"x":0,"y":0.13},{"s":98,"x":0.053,"y":0.15},{"s":98,"x":0.105,"y":0.18},{"s":98,"x":0.158,"y":0.20},{"s":98,"x":0.211,"y":0.22},{"s":98,"x":0.263,"y":0.23},{"s":98,"x":0.316,"y":0.22},{"s":98,"x":0.368,"y":0.20},{"s":98,"x":0.421,"y":0.16},{"s":98,"x":0.474,"y":0.12},{"s":98,"x":0.526,"y":0.09},{"s":98,"x":0.579,"y":0.07},{"s":98,"x":0.632,"y":0.055},{"s":98,"x":0.684,"y":0.043},{"s":98,"x":0.737,"y":0.034},{"s":98,"x":0.789,"y":0.028},{"s":98,"x":0.842,"y":0.023},{"s":98,"x":0.895,"y":0.019},{"s":98,"x":0.947,"y":0.016},{"s":98,"x":1,"y":0.013},
{"s":99,"x":0,"y":0.16},{"s":99,"x":0.053,"y":0.19},{"s":99,"x":0.105,"y":0.21},{"s":99,"x":0.158,"y":0.23},{"s":99,"x":0.211,"y":0.25},{"s":99,"x":0.263,"y":0.24},{"s":99,"x":0.316,"y":0.20},{"s":99,"x":0.368,"y":0.16},{"s":99,"x":0.421,"y":0.12},{"s":99,"x":0.474,"y":0.09},{"s":99,"x":0.526,"y":0.068},{"s":99,"x":0.579,"y":0.052},{"s":99,"x":0.632,"y":0.04},{"s":99,"x":0.684,"y":0.032},{"s":99,"x":0.737,"y":0.026},{"s":99,"x":0.789,"y":0.021},{"s":99,"x":0.842,"y":0.017},{"s":99,"x":0.895,"y":0.014},{"s":99,"x":0.947,"y":0.011},{"s":99,"x":1,"y":0.009},
{"s":100,"x":0,"y":0.18},{"s":100,"x":0.053,"y":0.20},{"s":100,"x":0.105,"y":0.19},{"s":100,"x":0.158,"y":0.18},{"s":100,"x":0.211,"y":0.17},{"s":100,"x":0.263,"y":0.16},{"s":100,"x":0.316,"y":0.14},{"s":100,"x":0.368,"y":0.12},{"s":100,"x":0.421,"y":0.10},{"s":100,"x":0.474,"y":0.08},{"s":100,"x":0.526,"y":0.062},{"s":100,"x":0.579,"y":0.048},{"s":100,"x":0.632,"y":0.038},{"s":100,"x":0.684,"y":0.03},{"s":100,"x":0.737,"y":0.024},{"s":100,"x":0.789,"y":0.02},{"s":100,"x":0.842,"y":0.016},{"s":100,"x":0.895,"y":0.013},{"s":100,"x":0.947,"y":0.011},{"s":100,"x":1,"y":0.009},
{"s":101,"x":0,"y":0.20},{"s":101,"x":0.053,"y":0.19},{"s":101,"x":0.105,"y":0.18},{"s":101,"x":0.158,"y":0.17},{"s":101,"x":0.211,"y":0.16},{"s":101,"x":0.263,"y":0.14},{"s":101,"x":0.316,"y":0.12},{"s":101,"x":0.368,"y":0.10},{"s":101,"x":0.421,"y":0.08},{"s":101,"x":0.474,"y":0.065},{"s":101,"x":0.526,"y":0.05},{"s":101,"x":0.579,"y":0.04},{"s":101,"x":0.632,"y":0.032},{"s":101,"x":0.684,"y":0.026},{"s":101,"x":0.737,"y":0.021},{"s":101,"x":0.789,"y":0.017},{"s":101,"x":0.842,"y":0.014},{"s":101,"x":0.895,"y":0.012},{"s":101,"x":0.947,"y":0.01},{"s":101,"x":1,"y":0.008},
{"s":102,"x":0,"y":0.22},{"s":102,"x":0.053,"y":0.20},{"s":102,"x":0.105,"y":0.18},{"s":102,"x":0.158,"y":0.16},{"s":102,"x":0.211,"y":0.15},{"s":102,"x":0.263,"y":0.13},{"s":102,"x":0.316,"y":0.11},{"s":102,"x":0.368,"y":0.09},{"s":102,"x":0.421,"y":0.07},{"s":102,"x":0.474,"y":0.055},{"s":102,"x":0.526,"y":0.043},{"s":102,"x":0.579,"y":0.034},{"s":102,"x":0.632,"y":0.027},{"s":102,"x":0.684,"y":0.022},{"s":102,"x":0.737,"y":0.018},{"s":102,"x":0.789,"y":0.015},{"s":102,"x":0.842,"y":0.012},{"s":102,"x":0.895,"y":0.01},{"s":102,"x":0.947,"y":0.008},{"s":102,"x":1,"y":0.007},
{"s":103,"x":0,"y":0.24},{"s":103,"x":0.053,"y":0.25},{"s":103,"x":0.105,"y":0.24},{"s":103,"x":0.158,"y":0.22},{"s":103,"x":0.211,"y":0.19},{"s":103,"x":0.263,"y":0.16},{"s":103,"x":0.316,"y":0.13},{"s":103,"x":0.368,"y":0.10},{"s":103,"x":0.421,"y":0.075},{"s":103,"x":0.474,"y":0.056},{"s":103,"x":0.526,"y":0.042},{"s":103,"x":0.579,"y":0.032},{"s":103,"x":0.632,"y":0.025},{"s":103,"x":0.684,"y":0.02},{"s":103,"x":0.737,"y":0.016},{"s":103,"x":0.789,"y":0.013},{"s":103,"x":0.842,"y":0.011},{"s":103,"x":0.895,"y":0.009},{"s":103,"x":0.947,"y":0.008},{"s":103,"x":1,"y":0.006},
{"s":104,"x":0,"y":0.26},{"s":104,"x":0.053,"y":0.27},{"s":104,"x":0.105,"y":0.28},{"s":104,"x":0.158,"y":0.27},{"s":104,"x":0.211,"y":0.25},{"s":104,"x":0.263,"y":0.22},{"s":104,"x":0.316,"y":0.18},{"s":104,"x":0.368,"y":0.14},{"s":104,"x":0.421,"y":0.105},{"s":104,"x":0.474,"y":0.078},{"s":104,"x":0.526,"y":0.058},{"s":104,"x":0.579,"y":0.044},{"s":104,"x":0.632,"y":0.034},{"s":104,"x":0.684,"y":0.027},{"s":104,"x":0.737,"y":0.022},{"s":104,"x":0.789,"y":0.018},{"s":104,"x":0.842,"y":0.015},{"s":104,"x":0.895,"y":0.012},{"s":104,"x":0.947,"y":0.01},{"s":104,"x":1,"y":0.008},
{"s":105,"x":0,"y":0.28},{"s":105,"x":0.053,"y":0.26},{"s":105,"x":0.105,"y":0.24},{"s":105,"x":0.158,"y":0.23},{"s":105,"x":0.211,"y":0.22},{"s":105,"x":0.263,"y":0.21},{"s":105,"x":0.316,"y":0.20},{"s":105,"x":0.368,"y":0.17},{"s":105,"x":0.421,"y":0.14},{"s":105,"x":0.474,"y":0.11},{"s":105,"x":0.526,"y":0.08},{"s":105,"x":0.579,"y":0.06},{"s":105,"x":0.632,"y":0.046},{"s":105,"x":0.684,"y":0.036},{"s":105,"x":0.737,"y":0.029},{"s":105,"x":0.789,"y":0.024},{"s":105,"x":0.842,"y":0.02},{"s":105,"x":0.895,"y":0.017},{"s":105,"x":0.947,"y":0.014},{"s":105,"x":1,"y":0.012},
{"s":106,"x":0,"y":0.04},{"s":106,"x":0.053,"y":0.05},{"s":106,"x":0.105,"y":0.06},{"s":106,"x":0.158,"y":0.08},{"s":106,"x":0.211,"y":0.09},{"s":106,"x":0.263,"y":0.10},{"s":106,"x":0.316,"y":0.11},{"s":106,"x":0.368,"y":0.11},{"s":106,"x":0.421,"y":0.10},{"s":106,"x":0.474,"y":0.085},{"s":106,"x":0.526,"y":0.07},{"s":106,"x":0.579,"y":0.055},{"s":106,"x":0.632,"y":0.043},{"s":106,"x":0.684,"y":0.034},{"s":106,"x":0.737,"y":0.027},{"s":106,"x":0.789,"y":0.022},{"s":106,"x":0.842,"y":0.018},{"s":106,"x":0.895,"y":0.015},{"s":106,"x":0.947,"y":0.012},{"s":106,"x":1,"y":0.01},
{"s":107,"x":0,"y":0.06},{"s":107,"x":0.053,"y":0.07},{"s":107,"x":0.105,"y":0.085},{"s":107,"x":0.158,"y":0.10},{"s":107,"x":0.211,"y":0.12},{"s":107,"x":0.263,"y":0.14},{"s":107,"x":0.316,"y":0.15},{"s":107,"x":0.368,"y":0.15},{"s":107,"x":0.421,"y":0.13},{"s":107,"x":0.474,"y":0.11},{"s":107,"x":0.526,"y":0.085},{"s":107,"x":0.579,"y":0.065},{"s":107,"x":0.632,"y":0.05},{"s":107,"x":0.684,"y":0.04},{"s":107,"x":0.737,"y":0.032},{"s":107,"x":0.789,"y":0.026},{"s":107,"x":0.842,"y":0.021},{"s":107,"x":0.895,"y":0.017},{"s":107,"x":0.947,"y":0.014},{"s":107,"x":1,"y":0.012},
{"s":108,"x":0,"y":0.08},{"s":108,"x":0.053,"y":0.10},{"s":108,"x":0.105,"y":0.12},{"s":108,"x":0.158,"y":0.15},{"s":108,"x":0.211,"y":0.18},{"s":108,"x":0.263,"y":0.20},{"s":108,"x":0.316,"y":0.19},{"s":108,"x":0.368,"y":0.16},{"s":108,"x":0.421,"y":0.13},{"s":108,"x":0.474,"y":0.10},{"s":108,"x":0.526,"y":0.078},{"s":108,"x":0.579,"y":0.06},{"s":108,"x":0.632,"y":0.047},{"s":108,"x":0.684,"y":0.037},{"s":108,"x":0.737,"y":0.03},{"s":108,"x":0.789,"y":0.024},{"s":108,"x":0.842,"y":0.02},{"s":108,"x":0.895,"y":0.016},{"s":108,"x":0.947,"y":0.013},{"s":108,"x":1,"y":0.011},
{"s":109,"x":0,"y":0.10},{"s":109,"x":0.053,"y":0.12},{"s":109,"x":0.105,"y":0.14},{"s":109,"x":0.158,"y":0.16},{"s":109,"x":0.211,"y":0.17},{"s":109,"x":0.263,"y":0.18},{"s":109,"x":0.316,"y":0.18},{"s":109,"x":0.368,"y":0.17},{"s":109,"x":0.421,"y":0.15},{"s":109,"x":0.474,"y":0.12},{"s":109,"x":0.526,"y":0.095},{"s":109,"x":0.579,"y":0.073},{"s":109,"x":0.632,"y":0.057},{"s":109,"x":0.684,"y":0.045},{"s":109,"x":0.737,"y":0.036},{"s":109,"x":0.789,"y":0.029},{"s":109,"x":0.842,"y":0.024},{"s":109,"x":0.895,"y":0.02},{"s":109,"x":0.947,"y":0.016},{"s":109,"x":1,"y":0.013},
{"s":110,"x":0,"y":0.12},{"s":110,"x":0.053,"y":0.14},{"s":110,"x":0.105,"y":0.17},{"s":110,"x":0.158,"y":0.21},{"s":110,"x":0.211,"y":0.24},{"s":110,"x":0.263,"y":0.26},{"s":110,"x":0.316,"y":0.27},{"s":110,"x":0.368,"y":0.25},{"s":110,"x":0.421,"y":0.21},{"s":110,"x":0.474,"y":0.16},{"s":110,"x":0.526,"y":0.12},{"s":110,"x":0.579,"y":0.09},{"s":110,"x":0.632,"y":0.07},{"s":110,"x":0.684,"y":0.055},{"s":110,"x":0.737,"y":0.044},{"s":110,"x":0.789,"y":0.036},{"s":110,"x":0.842,"y":0.03},{"s":110,"x":0.895,"y":0.025},{"s":110,"x":0.947,"y":0.02},{"s":110,"x":1,"y":0.016},
{"s":111,"x":0,"y":0.14},{"s":111,"x":0.053,"y":0.16},{"s":111,"x":0.105,"y":0.19},{"s":111,"x":0.158,"y":0.24},{"s":111,"x":0.211,"y":0.28},{"s":111,"x":0.263,"y":0.31},{"s":111,"x":0.316,"y":0.30},{"s":111,"x":0.368,"y":0.26},{"s":111,"x":0.421,"y":0.20},{"s":111,"x":0.474,"y":0.15},{"s":111,"x":0.526,"y":0.11},{"s":111,"x":0.579,"y":0.08},{"s":111,"x":0.632,"y":0.06},{"s":111,"x":0.684,"y":0.047},{"s":111,"x":0.737,"y":0.037},{"s":111,"x":0.789,"y":0.03},{"s":111,"x":0.842,"y":0.025},{"s":111,"x":0.895,"y":0.02},{"s":111,"x":0.947,"y":0.017},{"s":111,"x":1,"y":0.014},
{"s":112,"x":0,"y":0.02},{"s":112,"x":0.053,"y":0.025},{"s":112,"x":0.105,"y":0.035},{"s":112,"x":0.158,"y":0.05},{"s":112,"x":0.211,"y":0.06},{"s":112,"x":0.263,"y":0.065},{"s":112,"x":0.316,"y":0.065},{"s":112,"x":0.368,"y":0.06},{"s":112,"x":0.421,"y":0.052},{"s":112,"x":0.474,"y":0.044},{"s":112,"x":0.526,"y":0.037},{"s":112,"x":0.579,"y":0.03},{"s":112,"x":0.632,"y":0.025},{"s":112,"x":0.684,"y":0.02},{"s":112,"x":0.737,"y":0.016},{"s":112,"x":0.789,"y":0.013},{"s":112,"x":0.842,"y":0.011},{"s":112,"x":0.895,"y":0.009},{"s":112,"x":0.947,"y":0.007},{"s":112,"x":1,"y":0.006},
{"s":113,"x":0,"y":0.03},{"s":113,"x":0.053,"y":0.035},{"s":113,"x":0.105,"y":0.04},{"s":113,"x":0.158,"y":0.045},{"s":113,"x":0.211,"y":0.05},{"s":113,"x":0.263,"y":0.055},{"s":113,"x":0.316,"y":0.056},{"s":113,"x":0.368,"y":0.054},{"s":113,"x":0.421,"y":0.05},{"s":113,"x":0.474,"y":0.045},{"s":113,"x":0.526,"y":0.04},{"s":113,"x":0.579,"y":0.034},{"s":113,"x":0.632,"y":0.029},{"s":113,"x":0.684,"y":0.024},{"s":113,"x":0.737,"y":0.02},{"s":113,"x":0.789,"y":0.017},{"s":113,"x":0.842,"y":0.014},{"s":113,"x":0.895,"y":0.012},{"s":113,"x":0.947,"y":0.01},{"s":113,"x":1,"y":0.008},
{"s":114,"x":0,"y":0.035},{"s":114,"x":0.053,"y":0.03},{"s":114,"x":0.105,"y":0.028},{"s":114,"x":0.158,"y":0.03},{"s":114,"x":0.211,"y":0.035},{"s":114,"x":0.263,"y":0.04},{"s":114,"x":0.316,"y":0.042},{"s":114,"x":0.368,"y":0.04},{"s":114,"x":0.421,"y":0.036},{"s":114,"x":0.474,"y":0.031},{"s":114,"x":0.526,"y":0.027},{"s":114,"x":0.579,"y":0.023},{"s":114,"x":0.632,"y":0.02},{"s":114,"x":0.684,"y":0.017},{"s":114,"x":0.737,"y":0.014},{"s":114,"x":0.789,"y":0.012},{"s":114,"x":0.842,"y":0.01},{"s":114,"x":0.895,"y":0.008},{"s":114,"x":0.947,"y":0.007},{"s":114,"x":1,"y":0.006},
{"s":115,"x":0,"y":0.05},{"s":115,"x":0.053,"y":0.045},{"s":115,"x":0.105,"y":0.04},{"s":115,"x":0.158,"y":0.038},{"s":115,"x":0.211,"y":0.036},{"s":115,"x":0.263,"y":0.034},{"s":115,"x":0.316,"y":0.031},{"s":115,"x":0.368,"y":0.028},{"s":115,"x":0.421,"y":0.025},{"s":115,"x":0.474,"y":0.022},{"s":115,"x":0.526,"y":0.019},{"s":115,"x":0.579,"y":0.016},{"s":115,"x":0.632,"y":0.014},{"s":115,"x":0.684,"y":0.012},{"s":115,"x":0.737,"y":0.01},{"s":115,"x":0.789,"y":0.008},{"s":115,"x":0.842,"y":0.007},{"s":115,"x":0.895,"y":0.006},{"s":115,"x":0.947,"y":0.005},{"s":115,"x":1,"y":0.004},
{"s":116,"x":0,"y":0.07},{"s":116,"x":0.053,"y":0.06},{"s":116,"x":0.105,"y":0.055},{"s":116,"x":0.158,"y":0.05},{"s":116,"x":0.211,"y":0.047},{"s":116,"x":0.263,"y":0.045},{"s":116,"x":0.316,"y":0.045},{"s":116,"x":0.368,"y":0.043},{"s":116,"x":0.421,"y":0.04},{"s":116,"x":0.474,"y":0.036},{"s":116,"x":0.526,"y":0.032},{"s":116,"x":0.579,"y":0.028},{"s":116,"x":0.632,"y":0.024},{"s":116,"x":0.684,"y":0.021},{"s":116,"x":0.737,"y":0.018},{"s":116,"x":0.789,"y":0.015},{"s":116,"x":0.842,"y":0.013},{"s":116,"x":0.895,"y":0.011},{"s":116,"x":0.947,"y":0.009},{"s":116,"x":1,"y":0.008},
{"s":117,"x":0,"y":0.09},{"s":117,"x":0.053,"y":0.085},{"s":117,"x":0.105,"y":0.08},{"s":117,"x":0.158,"y":0.085},{"s":117,"x":0.211,"y":0.09},{"s":117,"x":0.263,"y":0.095},{"s":117,"x":0.316,"y":0.095},{"s":117,"x":0.368,"y":0.09},{"s":117,"x":0.421,"y":0.08},{"s":117,"x":0.474,"y":0.068},{"s":117,"x":0.526,"y":0.056},{"s":117,"x":0.579,"y":0.046},{"s":117,"x":0.632,"y":0.038},{"s":117,"x":0.684,"y":0.031},{"s":117,"x":0.737,"y":0.026},{"s":117,"x":0.789,"y":0.022},{"s":117,"x":0.842,"y":0.019},{"s":117,"x":0.895,"y":0.016},{"s":117,"x":0.947,"y":0.014},{"s":117,"x":1,"y":0.012},
{"s":118,"x":0,"y":0.11},{"s":118,"x":0.053,"y":0.12},{"s":118,"x":0.105,"y":0.14},{"s":118,"x":0.158,"y":0.16},{"s":118,"x":0.211,"y":0.18},{"s":118,"x":0.263,"y":0.19},{"s":118,"x":0.316,"y":0.17},{"s":118,"x":0.368,"y":0.14},{"s":118,"x":0.421,"y":0.11},{"s":118,"x":0.474,"y":0.085},{"s":118,"x":0.526,"y":0.065},{"s":118,"x":0.579,"y":0.05},{"s":118,"x":0.632,"y":0.04},{"s":118,"x":0.684,"y":0.032},{"s":118,"x":0.737,"y":0.026},{"s":118,"x":0.789,"y":0.022},{"s":118,"x":0.842,"y":0.019},{"s":118,"x":0.895,"y":0.016},{"s":118,"x":0.947,"y":0.014},{"s":118,"x":1,"y":0.012},
{"s":119,"x":0,"y":0.17},{"s":119,"x":0.053,"y":0.16},{"s":119,"x":0.105,"y":0.15},{"s":119,"x":0.158,"y":0.15},{"s":119,"x":0.211,"y":0.16},{"s":119,"x":0.263,"y":0.17},{"s":119,"x":0.316,"y":0.17},{"s":119,"x":0.368,"y":0.15},{"s":119,"x":0.421,"y":0.12},{"s":119,"x":0.474,"y":0.09},{"s":119,"x":0.526,"y":0.07},{"s":119,"x":0.579,"y":0.054},{"s":119,"x":0.632,"y":0.042},{"s":119,"x":0.684,"y":0.034},{"s":119,"x":0.737,"y":0.028},{"s":119,"x":0.789,"y":0.023},{"s":119,"x":0.842,"y":0.019},{"s":119,"x":0.895,"y":0.016},{"s":119,"x":0.947,"y":0.013},{"s":119,"x":1,"y":0.011},
{"s":120,"x":0,"y":0.19},{"s":120,"x":0.053,"y":0.22},{"s":120,"x":0.105,"y":0.26},{"s":120,"x":0.158,"y":0.30},{"s":120,"x":0.211,"y":0.32},{"s":120,"x":0.263,"y":0.31},{"s":120,"x":0.316,"y":0.26},{"s":120,"x":0.368,"y":0.20},{"s":120,"x":0.421,"y":0.15},{"s":120,"x":0.474,"y":0.11},{"s":120,"x":0.526,"y":0.08},{"s":120,"x":0.579,"y":0.06},{"s":120,"x":0.632,"y":0.046},{"s":120,"x":0.684,"y":0.036},{"s":120,"x":0.737,"y":0.029},{"s":120,"x":0.789,"y":0.024},{"s":120,"x":0.842,"y":0.02},{"s":120,"x":0.895,"y":0.017},{"s":120,"x":0.947,"y":0.014},{"s":120,"x":1,"y":0.012},
{"s":121,"x":0,"y":0.01},{"s":121,"x":0.053,"y":0.012},{"s":121,"x":0.105,"y":0.015},{"s":121,"x":0.158,"y":0.02},{"s":121,"x":0.211,"y":0.025},{"s":121,"x":0.263,"y":0.028},{"s":121,"x":0.316,"y":0.028},{"s":121,"x":0.368,"y":0.026},{"s":121,"x":0.421,"y":0.023},{"s":121,"x":0.474,"y":0.02},{"s":121,"x":0.526,"y":0.017},{"s":121,"x":0.579,"y":0.014},{"s":121,"x":0.632,"y":0.012},{"s":121,"x":0.684,"y":0.01},{"s":121,"x":0.737,"y":0.008},{"s":121,"x":0.789,"y":0.006},{"s":121,"x":0.842,"y":0.005},{"s":121,"x":0.895,"y":0.004},{"s":121,"x":0.947,"y":0.003},{"s":121,"x":1,"y":0.002},
{"s":122,"x":0,"y":0.03},{"s":122,"x":0.053,"y":0.025},{"s":122,"x":0.105,"y":0.022},{"s":122,"x":0.158,"y":0.018},{"s":122,"x":0.211,"y":0.012},{"s":122,"x":0.263,"y":0.008},{"s":122,"x":0.316,"y":0.006},{"s":122,"x":0.368,"y":0.005},{"s":122,"x":0.421,"y":0.004},{"s":122,"x":0.474,"y":0.004},{"s":122,"x":0.526,"y":0.003},{"s":122,"x":0.579,"y":0.003},{"s":122,"x":0.632,"y":0.003},{"s":122,"x":0.684,"y":0.002},{"s":122,"x":0.737,"y":0.002},{"s":122,"x":0.789,"y":0.002},{"s":122,"x":0.842,"y":0.002},{"s":122,"x":0.895,"y":0.001},{"s":122,"x":0.947,"y":0.001},{"s":122,"x":1,"y":0.001},
{"s":123,"x":0,"y":0.025},{"s":123,"x":0.053,"y":0.03},{"s":123,"x":0.105,"y":0.028},{"s":123,"x":0.158,"y":0.02},{"s":123,"x":0.211,"y":0.015},{"s":123,"x":0.263,"y":0.012},{"s":123,"x":0.316,"y":0.01},{"s":123,"x":0.368,"y":0.009},{"s":123,"x":0.421,"y":0.008},{"s":123,"x":0.474,"y":0.007},{"s":123,"x":0.526,"y":0.006},{"s":123,"x":0.579,"y":0.005},{"s":123,"x":0.632,"y":0.004},{"s":123,"x":0.684,"y":0.004},{"s":123,"x":0.737,"y":0.003},{"s":123,"x":0.789,"y":0.003},{"s":123,"x":0.842,"y":0.002},{"s":123,"x":0.895,"y":0.002},{"s":123,"x":0.947,"y":0.002},{"s":123,"x":1,"y":0.001}
],
"m": [
{"x":0,"y":0.219},{"x":0.053,"y":0.245},{"x":0.105,"y":0.267},{"x":0.158,"y":0.262},{"x":0.211,"y":0.23},{"x":0.263,"y":0.192},{"x":0.316,"y":0.152},{"x":0.368,"y":0.118},{"x":0.421,"y":0.088},{"x":0.474,"y":0.067},{"x":0.526,"y":0.052},{"x":0.579,"y":0.042},{"x":0.632,"y":0.035},{"x":0.684,"y":0.029},{"x":0.737,"y":0.025},{"x":0.789,"y":0.021},{"x":0.842,"y":0.017},{"x":0.895,"y":0.014},{"x":0.947,"y":0.011},{"x":1,"y":0.008}
]
},
"layer": [
{"data": {"name": "g"},
 "mark": {"type": "line", "color": "#b3b3b3", "strokeWidth": 5, "strokeJoin": "round"},
 "encoding": {
  "x": {"field": "x", "type": "quantitative", "scale": {"domain": [0, 1], "nice": false, "zero": false},
        "axis": {"title": "Normalised airway radius", "values": [0, 0.2, 0.4, 0.6, 0.8, 1], "format": "~g", "labelPadding": 29, "titlePadding": 11}},
  "y": {"field": "y", "type": "quantitative", "scale": {"domain": [0, 1], "nice": false},
        "axis": {"title": "Area faction of stain", "values": [0, 0.2, 0.4, 0.6, 0.8, 1], "format": "~g", "labelPadding": 24, "titlePadding": 4, "titleFontSize": 46}},
  "detail": {"field": "s", "type": "nominal"}
 }},
{"data": {"name": "m"},
 "mark": {"type": "line", "color": "#ffff00", "strokeWidth": 7, "strokeJoin": "round"},
 "encoding": {
  "x": {"field": "x", "type": "quantitative"},
  "y": {"field": "y", "type": "quantitative"}
 }}
]
}
